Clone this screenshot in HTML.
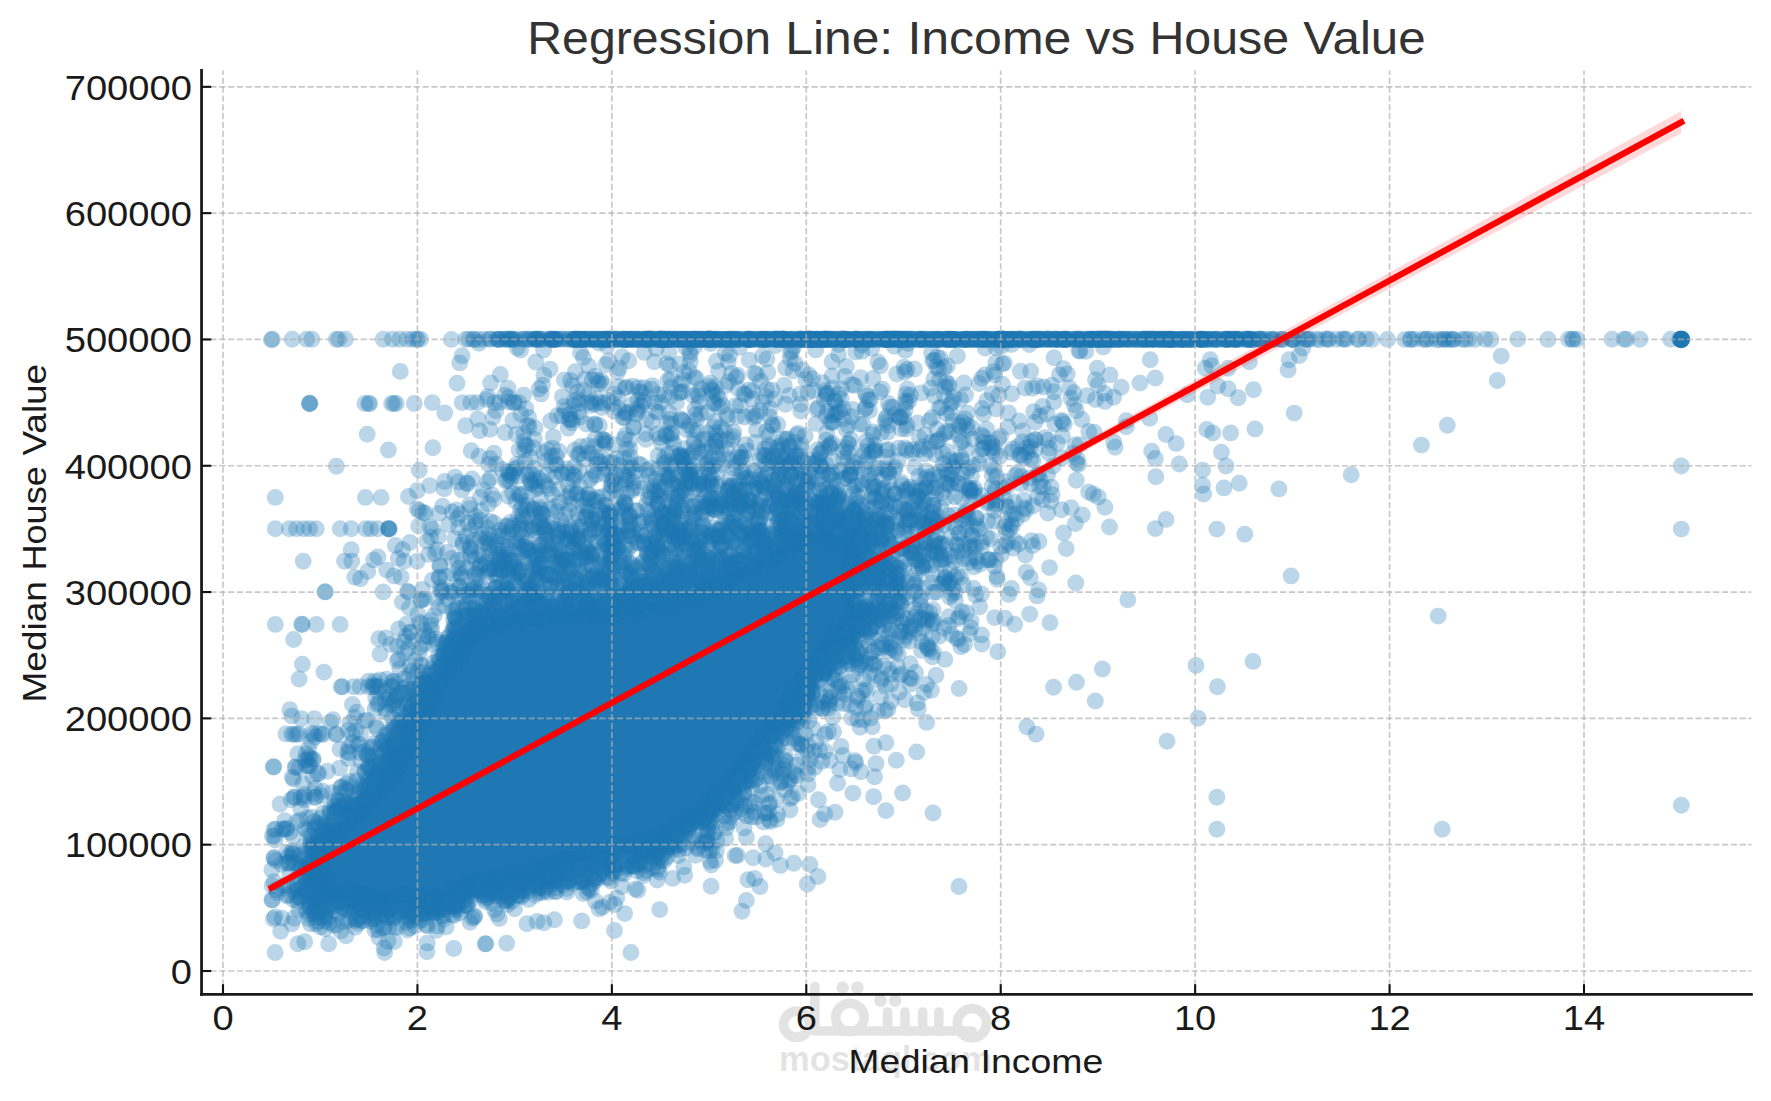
<!DOCTYPE html>
<html><head><meta charset="utf-8"><title>Regression Line: Income vs House Value</title>
<style>html,body{margin:0;padding:0;background:#fff}body{width:1771px;height:1101px;overflow:hidden;font-family:"Liberation Sans",sans-serif}svg{display:block}text{font-family:"Liberation Sans",sans-serif}</style></head><body>
<svg width="1771" height="1101" viewBox="0 0 1771 1101">
<rect width="1771" height="1101" fill="#fff"/>
<g id="scatter">
<path fill="#1f77b4" d="M318 858L322 845L326 838L330 832L334 829L338 825L342 822L346 818L350 815L354 811L358 807L362 803L366 800L370 796L374 792L378 788L382 783L386 776L390 768L394 761L398 754L402 747L406 740L410 731L414 723L418 715L422 707L426 698L430 690L434 684L438 678L442 672L446 665L450 659L454 653L458 647L462 641L466 636L470 630L474 628L478 627L482 625L486 624L490 623L494 621L498 620L502 618L506 616L510 615L514 613L518 613L522 612L526 612L530 612L534 612L538 612L542 611L546 611L550 611L554 611L558 610L562 610L566 610L570 610L574 610L578 609L582 609L586 609L590 609L594 609L598 608L602 608L606 608L610 608L614 607L618 607L622 606L626 605L630 605L634 604L638 604L642 603L646 602L650 602L654 601L658 600L662 600L666 598L670 597L674 596L678 595L682 593L686 592L690 591L694 590L698 588L702 587L706 586L710 584L714 582L718 580L722 578L726 576L730 574L734 572L738 570L742 568L746 566L750 564L754 562L758 560L762 558L766 555L770 553L774 550L778 548L782 545L786 543L790 540L794 538L798 535L802 533L806 530L810 531L814 531L818 532L822 532L826 533L830 533L834 534L838 534L842 535L846 535L850 536L854 536L854 618L850 622L846 626L842 630L838 636L834 642L830 648L826 654L822 660L818 666L814 672L810 678L806 683L802 689L798 695L794 701L790 707L786 712L782 717L778 723L774 728L770 734L766 739L762 744L758 750L754 755L750 760L746 766L742 770L738 775L734 779L730 784L726 788L722 792L718 797L714 801L710 806L706 810L702 813L698 816L694 818L690 821L686 824L682 827L678 829L674 832L670 835L666 837L662 840L658 842L654 843L650 844L646 845L642 846L638 847L634 848L630 849L626 850L622 851L618 852L614 853L610 854L606 855L602 856L598 857L594 858L590 859L586 860L582 861L578 862L574 863L570 864L566 865L562 866L558 867L554 868L550 870L546 871L542 873L538 874L534 875L530 877L526 878L522 880L518 881L514 882L510 883L506 883L502 883L498 884L494 884L490 884L486 885L482 885L478 885L474 886L470 886L466 886L462 889L458 892L454 894L450 897L446 900L442 903L438 903L434 903L430 903L426 903L422 903L418 903L414 903L410 903L406 903L402 903L398 903L394 903L390 903L386 903L382 903L378 903L374 903L370 903L366 902L362 902L358 901L354 900L350 899L346 899L342 898L338 898L334 898L330 898L326 898L322 898L318 897Z"/>
<g fill="none" stroke="#1f77b4" stroke-opacity="0.3" stroke-width="16.9" stroke-linecap="round">
<path d="M271.4 339.8h0M272.4 899.9h0M273.2 766.7h0M273.4 919h0M274.2 858h0M275.1 840h0M275.1 952.5h0M275.3 497.4h0M275.3 528.8h0M275.3 624.4h0M284.7 820.7h0M287.5 885.7h0M291.9 923.7h0M291.9 715.9h0M292.2 339.2h0M292.3 777.2h0M293.7 639.5h0M294 734.2h0M294.6 797.3h0M297.8 901.8h0M297.9 943.7h0M299.1 679h0M299.6 855.4h0M303.2 561.3h0M306.1 880h0M308.7 756.8h0M309.5 834.7h0M309.6 403.5h0M309.6 528.8h0M311.4 817.2h0M311.9 339.2h0M313.7 734.2h0M314.9 797.3h0M315.1 895h0M315.7 917.2h0M316.3 624.4h0M317.4 773.7h0M323.4 853.9h0M323.5 878.5h0M323.9 672.1h0M325.3 591.7h0M328.7 943.7h0M330.2 722.1h0M332.9 838.1h0M334.2 819.5h0M335 800.6h0M336.4 466.3h0M338.7 339.2h0M339.7 768.1h0M340 749.2h0M340.1 528.8h0M340.1 624.4h0M340.9 930.9h0M341.2 686.8h0M343 898.5h0M348.2 730.4h0M351.1 786.6h0M351.2 549.7h0M352.3 805.4h0M352.4 704.5h0M360 686.8h0M360.5 578.8h0M360.9 760.7h0M362.6 920.5h0M364.6 721.1h0M364.9 403.5h0M365.7 528.8h0M367.2 434.3h0M368.2 780.9h0M370.8 804.6h0M372.1 903.7h0M373.8 743.6h0M377.9 557h0M379.9 763.5h0M381.1 497.4h0M383.2 339.2h0M383.2 591.9h0M384.1 948h0M384.1 927.4h0M385.6 709.2h0M385.9 637.9h0M386.6 784.8h0M388.4 450h0M389 528.8h0M389.5 734.2h0M391.2 686.3h0M393.8 751.7h0M393.9 575.9h0M396.3 403.5h0M398.8 894.3h0M399.7 668.5h0M400.1 915.1h0M400.3 371.5h0M402.4 602.1h0M402.7 549.7h0M405.4 703.8h0M405.9 636.5h0M408.5 496.5h0M409.5 735h0M414.3 403.5h0M417.2 561.3h0M417.6 671.8h0M417.7 909.3h0M419.2 621.9h0M419.2 470.3h0M420.6 339.3h0M420.7 600.5h0M423 512.5h0M425.8 707.1h0M426.7 689.2h0M426.9 541.3h0M427 951.7h0M427.7 925.9h0M429.7 485.6h0M432.5 580.1h0M432.9 447.8h0M433.1 644.4h0M433.8 662.8h0M438.4 607.5h0M439.7 898.4h0M442.6 506.2h0M443.8 679.7h0M444.7 413h0M446.2 927h0M447.4 552.5h0M448.8 524.5h0M450.7 643.4h0M451.3 592.9h0M451.4 339.4h0M453.4 664.6h0M453.5 574.1h0M453.8 948.5h0M455.1 477.1h0M455.2 909.7h0M455.5 617.8h0M457 889.4h0M457.1 383.3h0M459.7 362.9h0M469.9 546.9h0M469.9 637.2h0M470.7 402.6h0M471.2 450.8h0M474.3 917.1h0M474.5 596.5h0M474.6 616.5h0M474.8 886.5h0M474.9 574.3h0M475.4 516.4h0M479.6 430.8h0M483.9 339.3h0M485.4 901.5h0M485.8 943.7h0M487.7 481.5h0M487.9 630.7h0M488.4 540h0M488.5 504.3h0M490.6 383h0M494 453.2h0M494.1 523h0M495 607.3h0M495.8 587.6h0M496 410.5h0M499.3 918.5h0M501.2 570.1h0M503.5 550.5h0M505.7 481.1h0M505.9 891.5h0M506 339.1h0M506.7 943.2h0M507.9 388h0M508.2 874.2h0M511.3 617.5h0M512.3 599.4h0M515.8 501.3h0M516.3 434.4h0M517.8 533h0M519.3 571.5h0M520.5 350h0M524.1 551.7h0M526 408.6h0M528.6 613.3h0M528.8 899.4h0M530.5 457.3h0M531.4 483.3h0M534.5 439.2h0M534.7 593.7h0M535.2 514h0M535.8 339.2h0M537.1 921.4h0M537.6 880.2h0M541.7 575.7h0M542.2 545.1h0M542.5 385.2h0M547 475.1h0M550 369.1h0M550.2 862.6h0M550.6 421h0M553.6 596.8h0M554.3 339.5h0M554.5 919.7h0M556.9 616.2h0M558.3 489.1h0M558.7 451.2h0M561.5 876.4h0M562.6 531.5h0M563.1 577.3h0M564 406.5h0M565.2 514.3h0M566 554.8h0M570.5 380.5h0M572.1 422.8h0M574.5 466.4h0M574.7 339.3h0M576 493.9h0M576.9 605.2h0M578.6 539.6h0M579.2 858.9h0M581.7 920.9h0M587 892.1h0M588.8 366.2h0M589.1 512.4h0M591.3 477.6h0M591.4 453.9h0M592.2 339.2h0M592.8 577.8h0M594.1 550.8h0M594.3 529.7h0M594.9 424h0M597.5 855.9h0M598.4 878h0M598.9 383.4h0M599.1 908.9h0M601.8 407.5h0M602.1 604.8h0M602.4 496.7h0M606.2 564.4h0M608.7 360.9h0M610 515.2h0M611.6 547.1h0M612.2 585.2h0M614.3 394.1h0M614.5 930.5h0M614.5 444.8h0M615.2 871h0M615.2 338.8h0M616.1 474.1h0M616.8 897.9h0M618 852.7h0M620.8 610.6h0M624.5 417.8h0M624.5 571.8h0M624.7 913.6h0M626.7 492.9h0M628.8 360.8h0M629 530.6h0M630.1 456.6h0M630.6 589.2h0M630.9 952.5h0M636.9 510.9h0M637.9 890.2h0M638 840.1h0M638.1 387.6h0M638.1 863.3h0M640 605.6h0M640.4 339.4h0M640.8 405.5h0M645.9 439.4h0M648 554.3h0M648.6 497.4h0M650.6 579.5h0M651 468.2h0M651.9 422.3h0M652.2 520h0M652.8 850h0M654.4 361.7h0M657.8 867.5h0M658.3 394.4h0M659.7 909.6h0M660.2 536.2h0M661 339.2h0M661.2 607.1h0M665.3 589.3h0M665.9 553.8h0M670.8 379.3h0M671.2 424.1h0M671.6 465.2h0M671.7 846.9h0M672.7 878.4h0M673.6 443.6h0M674.8 572.6h0M676.4 402.6h0M676.8 496.8h0M679.3 826.3h0M679.4 524.5h0M679.9 599.1h0M683.8 552.1h0M689.1 371h0M689.4 425.3h0M690.6 470.3h0M693.6 506.2h0M694.5 339.3h0M695.9 568.6h0M697.6 597.4h0M698.6 489.2h0M699.1 402.6h0M699.7 817.1h0M700.6 454.5h0M701.5 532.1h0M702 842.6h0M710.1 383.1h0M711.1 886.3h0M711.2 865h0M714.3 498.2h0M714.8 575.2h0M715.1 421.6h0M715.5 442.8h0M715.8 339.2h0M716.8 796.7h0M717.6 472.3h0M718.9 537.2h0M722 559h0M729.4 822h0M729.6 355h0M731.3 373.5h0M732.1 522.8h0M732.6 787.5h0M733.4 436.5h0M735.1 855.6h0M735.5 405.7h0M738.7 462.2h0M739.2 480.8h0M740.7 808.7h0M740.9 506.7h0M742 911.3h0M743 575.5h0M745.4 764.6h0M746.4 837.2h0M746.9 339.3h0M748 879.7h0M748.3 545h0M749.2 360.1h0M749.3 389.9h0M753.2 857.7h0M753.2 417.5h0M757.3 778.6h0M760.9 530.8h0M761.2 743.2h0M762.8 402.5h0M764.8 555.8h0M765 760.7h0M766.2 813.3h0M766.9 359h0M767.2 488.5h0M767.3 794.3h0M769 462.5h0M769 445.1h0M769.9 505.9h0M770.2 339.2h0M775 853h0M775.2 721.5h0M777.7 424.5h0M780.8 740.7h0M783.7 705.9h0M783.9 476.8h0M784 534.6h0M784.9 552.6h0M784.9 759.9h0M785.7 495.4h0M787.9 517.6h0M789.3 395.5h0M789.9 810.1h0M790.2 779.4h0M790.8 339.6h0M792.7 723.5h0M793 370.8h0M793.8 863.3h0M798.7 743.5h0M800.8 411.1h0M801.3 448.7h0M802.2 466.3h0M805.1 688.2h0M805.6 538.5h0M807.3 884h0M807.7 767.9h0M807.7 486.3h0M808 503.9h0M810.7 705.7h0M812.3 378.7h0M816 741.8h0M817.4 339.2h0M818.4 799.7h0M820.1 819.5h0M822.9 516.2h0M823 471.2h0M823.1 670.8h0M824.5 535.8h0M826.1 440.3h0M826.4 416.1h0M827.5 640.5h0M828.5 708.3h0M832.1 361.7h0M832.6 388.1h0M833.6 731.8h0M837.6 496.7h0M837.6 783.3h0M839 661.2h0M840.8 470.5h0M841.5 686.3h0M842.5 524.9h0M843 755.4h0M843.2 339.2h0M843.6 418.8h0M844.5 542.2h0M847.3 620.3h0M848.2 452.4h0M851.8 717.9h0M851.9 384.7h0M852 637.1h0M852.9 793.1h0M853.5 603.4h0M854.3 485.6h0M856 576.6h0M857.7 696.3h0M858.2 468.2h0M858.7 665.3h0M858.9 552.7h0M860.9 771.8h0M861 505.3h0M862.9 424.3h0M867.5 339.6h0M870.4 399.6h0M870.5 628.7h0M872.2 726.8h0M872.9 484.7h0M873 378.4h0M873.4 540.1h0M873.6 564.7h0M873.6 796.8h0M874.2 522h0M874.6 445.2h0M880.5 502.8h0M880.7 697h0M881.8 678.6h0M882.5 596.1h0M885.3 419.4h0M885.4 646.1h0M885.8 339.3h0M885.9 810.6h0M885.9 742.8h0M890.9 535.2h0M893.5 555h0M895.6 619h0M896.3 760.3h0M896.7 578.6h0M897.7 666.4h0M897.9 460.6h0M899.1 692.3h0M900 505.8h0M901.2 602.2h0M901.6 482.4h0M902.6 793h0M907.1 369.5h0M907.2 425.5h0M908.5 524.4h0M909.2 641.3h0M910.5 395.3h0M911.6 678.8h0M912.5 449.7h0M912.8 544.7h0M913.3 339.3h0M914.7 467.2h0M914.7 617.1h0M915.6 591.2h0M916.7 751.9h0M917.4 702.9h0M917.9 567.5h0M920.7 498.1h0M925.2 435.2h0M926.7 722.4h0M929.1 554h0M930.1 524.9h0M931.5 352.5h0M931.8 582.8h0M932.2 417.5h0M933 813h0M933.1 609.8h0M933.2 652h0M934 475h0M934.3 396h0M935.4 454.6h0M936 675.2h0M942.5 492.8h0M944 628.2h0M945.3 339.2h0M945.6 544.8h0M946.9 431.2h0M947.4 365.9h0M949.4 583h0M950 522.1h0M950.6 404.1h0M953.8 561.2h0M955 461.9h0M958.6 639.3h0M959 886.5h0M959.1 688.5h0M960.7 442.4h0M962.7 422.5h0M963.9 382.9h0M964.2 544.3h0M966.1 511h0M966.3 612.8h0M966.7 339.3h0M968.4 488.6h0M973.1 527.1h0M975.6 594.9h0M975.9 557.8h0M979.2 463.8h0M981.5 634.9h0M981.9 378.3h0M983.6 442.3h0M986.8 400.8h0M988.4 339.6h0M990.5 538.7h0M994.2 521.2h0M995.4 500.4h0M995.6 560.1h0M996.3 476.5h0M997.2 579.3h0M997.8 651.8h0M999.9 456.5h0M1000.6 436.3h0M1004.3 363.1h0M1005 618.2h0M1008.7 594.4h0M1011.2 339.4h0M1011.3 514.7h0M1011.8 393.8h0M1013.1 548h0M1018.1 472.3h0M1019.2 421h0M1020.4 371.3h0M1023.9 500.2h0M1026.2 572.1h0M1026.5 447.5h0M1029.7 614.1h0M1029.8 339.4h0M1032.6 388.2h0M1036.1 734.3h0M1037.1 595.9h0M1039 473.7h0M1039 541.5h0M1040 415.9h0M1042.5 499.5h0M1047.5 339.3h0M1049.3 448.1h0M1049.5 567.6h0M1050 622.7h0M1053.6 687.3h0M1054 401.8h0M1054 357.7h0M1061.4 509.7h0M1062.4 435.8h0M1063.5 532.9h0M1065 339.5h0M1067.3 374h0M1074.3 404.7h0M1075.8 583h0M1076.5 682.2h0M1076.6 463.3h0M1079 351h0M1079.8 444.6h0M1082.3 514.9h0M1088.7 492h0M1093 339.5h0M1094.1 432.2h0M1095.3 701h0M1095.5 399.6h0M1097.3 368.3h0M1102.4 669h0M1104.9 507.2h0M1109.5 527h0M1110.6 339.1h0M1113.6 397.3h0M1115.1 447.2h0M1126.3 420.7h0M1127.8 599.8h0M1135 339.3h0M1149.7 418.2h0M1150.2 359.7h0M1152.9 339.2h0M1155.3 378h0M1155.3 458.4h0M1155.3 528.6h0M1155.8 476.7h0M1166 434.5h0M1167 741.2h0M1175.8 339.3h0M1179.2 464h0M1187.4 394.8h0M1196 665.4h0M1198 718.3h0M1201.1 339.1h0M1202.6 485.3h0M1205.2 368.3h0M1212.8 432.9h0M1216.9 529.1h0M1216.9 797.2h0M1216.9 829.2h0M1217.4 686.8h0M1217.9 386.1h0M1221.4 452.3h0M1225.6 339.3h0M1228.1 368.3h0M1230.6 432.9h0M1239.2 483.3h0M1244.8 534.2h0M1249.4 361.7h0M1253 661.4h0M1253.5 389.7h0M1255 428.9h0M1255.5 339.4h0M1273.2 339.3h0M1278.9 488.9h0M1288.1 369.9h0M1291.1 575.9h0M1292.1 339.2h0M1294.2 413.1h0M1299.3 355.6h0M1327.9 339.3h0M1346.7 339.1h0M1351.2 474.7h0M1366.3 339h0M1387.6 339.4h0M1410 339.4h0M1421.4 445.1h0M1431.1 339.3h0M1438.2 616.1h0M1442.2 829.2h0M1447.3 425.3h0M1461.9 339.4h0M1491 339.5h0M1497.2 380.5h0M1501.2 356.1h0M1517.8 339.1h0M1547.9 339.4h0M1572.3 339.1h0M1612 339.3h0M1640 339.3h0M1681.3 466h0M1681.3 529.1h0M1681.3 805.3h0M1681.3 339.1h0"/>
<path d="M271.9 869.8h0M271.9 899.7h0M272.3 836.3h0M272.4 339.2h0M273.9 767h0M280 804.2h0M280.7 931.2h0M285.9 733.9h0M293.4 836.5h0M293.6 779h0M293.7 862.9h0M294.2 918.3h0M294.9 891.8h0M300.8 808.6h0M301.3 718.7h0M302.3 624.4h0M302.4 664.3h0M303.8 528.8h0M304.7 941.7h0M306.4 765.7h0M306.7 339.2h0M308.5 748.2h0M309.3 403.6h0M314 827.6h0M314.6 901.9h0M315.1 788.1h0M317.4 882.5h0M318.7 857.3h0M321.2 734.2h0M325 591.9h0M325.3 928.7h0M327.5 771.2h0M331 893.8h0M332.6 826.8h0M333.1 719.8h0M338 800.5h0M338.3 913.8h0M344.5 561.3h0M345.4 339.2h0M345.9 935.7h0M347.7 752h0M348.1 815.7h0M351.2 528.8h0M353.6 686.8h0M354.6 717.5h0M354.7 577.3h0M355.4 920.5h0M355.7 891.7h0M357.5 771.8h0M359.1 793.6h0M365.4 497.4h0M369.7 403.6h0M373.6 559.9h0M373.7 918.7h0M374.7 681.2h0M375.7 764h0M376 726.2h0M376.8 900.9h0M377.9 528.8h0M378.8 703.2h0M378.8 638.8h0M382.3 790.1h0M384.7 952.5h0M386 741.2h0M391.6 403.5h0M392.5 339.2h0M393.1 771.5h0M397.7 646.1h0M398 911.6h0M398.3 558.4h0M399.1 722.1h0M400.3 693h0M401.2 577.3h0M403.3 754.5h0M404.6 894.5h0M407.4 930.1h0M409.9 542.4h0M410.6 632h0M415.9 737.4h0M417.2 490.7h0M417.8 339.2h0M418.2 714.9h0M418.7 696.8h0M419.4 653.3h0M421.3 599.5h0M422.7 679.6h0M424.2 894.9h0M425.2 513.2h0M427.2 916.4h0M427.2 943.1h0M428 636.4h0M428.7 554.4h0M432.3 402.6h0M432.7 528.9h0M434.2 615.5h0M438.3 668h0M439.4 577.7h0M439.4 685.8h0M444.1 488.8h0M449.9 898.7h0M452.2 511.9h0M454.9 538.8h0M455.1 644.8h0M455.8 663h0M457.6 607.9h0M459.4 568.2h0M461.9 489.9h0M462.1 355.7h0M462.2 402.6h0M463.3 590.9h0M465.6 425.8h0M466.5 630.7h0M467.2 904.8h0M468 523.3h0M469.8 879.8h0M470.1 922.3h0M471.3 551h0M474.9 614.2h0M479.1 343.3h0M479.2 456.2h0M481 510.7h0M481.5 534.5h0M485.3 943.9h0M486.5 630.8h0M486.6 399.4h0M487.1 594.7h0M490.4 478.2h0M490.9 568.9h0M493 417.2h0M494.5 909.4h0M495 888.5h0M496.2 339.1h0M498.4 616.7h0M500.3 374.4h0M502.1 536.6h0M504.1 600.1h0M504.9 432.5h0M507 875h0M508.5 496.2h0M509.3 558h0M509.5 474.7h0M514.3 402.6h0M514.5 908.8h0M518.1 573h0M522 884.4h0M523.2 546.8h0M525.3 445.3h0M525.9 528.6h0M529.2 339.2h0M529.2 426.4h0M529.2 472.6h0M529.5 595.2h0M532.6 617.9h0M532.8 508.7h0M536.6 578.4h0M538.4 892.7h0M540.1 554.5h0M541.1 393.9h0M542 875.3h0M543.8 922.7h0M543.9 375.3h0M545 605.4h0M546.9 538.1h0M548.7 488.4h0M549.6 339.2h0M555.7 887.7h0M556.2 455.9h0M559 566.8h0M559.7 502.5h0M559.9 858.4h0M562.1 473.9h0M565.4 410.7h0M567.9 339.3h0M568.2 428.2h0M568.5 591.7h0M571.6 529.9h0M571.9 609.2h0M575.3 371.7h0M578.9 553.3h0M579.6 453.7h0M579.8 486.8h0M580.2 882h0M580.5 352.4h0M586.6 424.1h0M588.2 402.6h0M589.3 604.3h0M591.1 855.2h0M592.2 379.9h0M595.7 519.5h0M595.8 542.1h0M596.6 573.4h0M597.6 501.8h0M599 339.3h0M599.1 874.5h0M602.5 907.1h0M603.8 615.1h0M604.4 474h0M605.3 442.8h0M608.5 594.9h0M612.3 403.4h0M616.4 458.5h0M616.6 339.5h0M616.7 854h0M618.5 536.3h0M618.8 386.6h0M619.3 368h0M621.6 614.9h0M622.3 575.3h0M623.5 555.9h0M623.8 475.1h0M624 873.7h0M629 515.4h0M631.2 491h0M633.4 427.4h0M634.5 848.9h0M635.3 889h0M637.9 400.2h0M638.5 542.8h0M640.9 593.7h0M646.9 470.1h0M648.4 835.6h0M648.7 339.2h0M651 498.4h0M652.4 385.6h0M652.4 524.6h0M652.6 867.8h0M652.8 570.2h0M654.6 607.5h0M655.6 411.2h0M656.3 547.3h0M660.2 437.6h0M666.2 339.5h0M666.6 582.8h0M667 363.6h0M667.6 839.3h0M668 513.3h0M669.4 477.3h0M670 396.9h0M671.4 530.4h0M672 453.5h0M678.4 855.5h0M679.1 496.3h0M680.5 418.6h0M682.3 600.8h0M683.4 557.2h0M683.7 380.2h0M684 819.6h0M684.7 875.2h0M686.1 581.7h0M686.1 469.8h0M689.8 530.2h0M689.9 352.1h0M692.5 842.5h0M695.1 489.2h0M695.1 513.3h0M699.1 546.7h0M699.7 570h0M700.7 413.8h0M702.5 339.6h0M705.2 439.3h0M706.5 589.4h0M711.3 506.1h0M712.2 849.3h0M713.1 395.8h0M714 816.3h0M715.9 798h0M717.1 484.4h0M718.6 371.1h0M720.5 557.4h0M722 525.9h0M722.2 339.4h0M722.2 464.8h0M724.2 581.2h0M724.4 430.6h0M730.6 496.7h0M733.1 541.1h0M733.9 788.4h0M736 377.2h0M736 567.8h0M737.2 416.6h0M737.4 855.4h0M739 769.2h0M739.5 347.4h0M742.1 812.4h0M745.5 519.1h0M745.6 444.7h0M746.4 900.5h0M747.4 482.7h0M750.6 500.5h0M750.9 751.4h0M751.8 788.5h0M752.3 398.9h0M753.6 566.6h0M755.6 339.4h0M760 886.5h0M760.3 772.1h0M762.6 737.7h0M764 537.9h0M764.6 478.1h0M765.5 455.4h0M765.6 843.8h0M767.7 372.6h0M768.6 556.4h0M768.9 435.3h0M769 504.9h0M769.6 416.9h0M769.9 803.4h0M770.4 821.6h0M770.5 756.4h0M772.1 390.3h0M778.2 726.6h0M780.4 865.4h0M782.4 773.8h0M782.9 479.5h0M783 518.8h0M785 706.8h0M785.5 540.5h0M785.7 367.9h0M786 339.3h0M789.4 446.3h0M791.2 500.8h0M795.7 686.9h0M798.2 793.2h0M799.2 526.8h0M800.6 404.2h0M800.9 744.4h0M801.5 722.8h0M801.7 460.7h0M803.8 702.9h0M805.2 435.8h0M805.9 379.4h0M808.2 774h0M808.2 672.6h0M809 505.8h0M811.5 476h0M817.8 407.6h0M817.9 876.5h0M819.1 459h0M819.4 658.7h0M819.7 339.6h0M824.7 814h0M825.1 390.7h0M826.2 530.3h0M827.4 495.5h0M828.3 731.6h0M829.4 704.6h0M829.9 760.4h0M830 476.1h0M830.4 421.9h0M830.4 444.6h0M833.7 512.3h0M835.4 643.7h0M838.5 687.3h0M838.7 339h0M840.4 666.2h0M841 746.5h0M841.3 541.5h0M843.6 408.7h0M846.4 366.4h0M848.2 459.1h0M848.3 559h0M849.9 704.6h0M850.2 631.3h0M850.6 593.1h0M850.8 439.5h0M851.1 768.9h0M853.2 510.6h0M853.9 575.6h0M857.3 659h0M858 531.5h0M859.5 424.3h0M859.8 612.8h0M860 727.2h0M860.7 377.8h0M861.9 345.1h0M862.2 485.2h0M863.8 679.2h0M865 554h0M866.7 396h0M867.7 446h0M870.4 515.4h0M871.5 627.8h0M871.9 587.1h0M873.2 651.5h0M873.9 746.2h0M874.4 498.2h0M874.6 776.8h0M877.9 361.9h0M878.4 606.3h0M879.6 530.9h0M881.1 432.7h0M882.3 550.5h0M883.7 665.9h0M885.3 568h0M887.6 638.6h0M887.8 709.5h0M888.3 449.4h0M888.4 403.5h0M889 472.1h0M889.7 513.4h0M890.6 684.3h0M890.7 339.1h0M891.6 490.1h0M896.2 588.9h0M898.3 653.8h0M898.3 611.1h0M900.1 416.9h0M902.1 547.9h0M904.2 367.1h0M904.5 526.9h0M905.1 699.8h0M905.9 394.4h0M908.5 339.5h0M909.8 677.9h0M910.1 487.1h0M912.1 453h0M914.3 592.3h0M914.9 629.6h0M917.2 560.6h0M917.4 422.9h0M921.5 513.3h0M924.8 533.8h0M926.1 339h0M926.9 477.2h0M929.9 612.4h0M930.1 649.6h0M931 442.4h0M931.4 690.3h0M932.4 573.7h0M933.5 592.5h0M936.1 494h0M937 357.1h0M937.3 546.6h0M941.3 407.3h0M943.3 525h0M944.9 659.4h0M945.9 382.1h0M947.4 451.7h0M947.5 474h0M949.1 616.6h0M949.7 431.7h0M950.1 570.1h0M953 588.6h0M954.7 496.7h0M956.7 638.4h0M959.4 533.5h0M961.1 339.5h0M964.2 514.8h0M965 418.9h0M965.5 394.9h0M966.1 449.6h0M967 471.5h0M970.2 547.3h0M970.7 627.6h0M973.7 588.5h0M973.8 566.9h0M974.6 488.4h0M979.2 383.5h0M979.4 528.9h0M979.7 606.8h0M979.7 339.2h0M981.6 435.2h0M982 644.1h0M982.1 408.4h0M986.9 502.9h0M993.1 450.8h0M994.1 470.2h0M994.4 566.4h0M994.7 617.6h0M995.7 362.8h0M998.7 339.2h0M998.9 395.3h0M1000.8 546.8h0M1003.5 488.1h0M1008.2 427.1h0M1011.4 588.5h0M1014.7 624.3h0M1014.8 513.7h0M1018.1 446.4h0M1020 339h0M1020.8 483.5h0M1026.9 726.7h0M1030.3 577.8h0M1032.6 545.4h0M1033 460.5h0M1035 439.6h0M1037.2 385.9h0M1038.6 339.3h0M1042.7 406.4h0M1047.8 513.1h0M1051.2 487.1h0M1053.1 466h0M1054 391.8h0M1054.8 423.9h0M1057.4 443.2h0M1059.4 374.7h0M1061.3 339.3h0M1066.2 548.6h0M1071.2 507.7h0M1073.8 392.8h0M1075.1 444.9h0M1076.3 480.2h0M1081.8 419.4h0M1087.2 339.2h0M1098.2 384.7h0M1098.3 497h0M1103.3 346.9h0M1104.9 401.4h0M1113.6 442.1h0M1119.5 339.4h0M1121.2 387.2h0M1126.3 426.8h0M1137 339.3h0M1140 383.1h0M1151.7 451.3h0M1157.4 339.1h0M1166 519.4h0M1176.2 443.6h0M1190.7 339.6h0M1202.6 470.1h0M1203.6 494h0M1206.7 429.4h0M1207.7 397.3h0M1211.7 339.5h0M1211.8 365.8h0M1224 487.9h0M1226 466h0M1230.7 339.2h0M1238.2 397.8h0M1252.9 339.4h0M1271.3 339.6h0M1289.1 359.7h0M1293.8 339.7h0M1315.8 339.3h0M1336.3 339.3h0M1358.6 339.3h0M1404.9 339.4h0M1426.7 339h0M1444.5 339.5h0M1465 339.2h0M1485.1 339.3h0M1568.5 339.3h0M1624 339.3h0M1681.1 339.1h0"/>
<path d="M272.2 885.7h0M275.1 916.9h0M286.2 828.4h0M286.4 862.9h0M287.9 894.9h0M289.9 709.8h0M291.7 734.2h0M296.5 528.8h0M298.7 880.2h0M301.6 624.2h0M304.2 794.5h0M305.1 828.9h0M308.6 863.1h0M308.8 765.7h0M309.3 902.4h0M310 403.2h0M314.4 718.6h0M314.8 736.9h0M316.3 528.8h0M316.3 923.9h0M316.3 844.6h0M320.7 888.2h0M322.6 791.3h0M323.1 813.1h0M326 860.8h0M326.5 907.1h0M336.4 339.2h0M336.6 734.2h0M336.6 925.1h0M339.6 801.6h0M340.7 832.7h0M342.4 686.8h0M348.7 903.7h0M351.2 816.9h0M351.8 561.3h0M352.5 742.5h0M356.1 793.7h0M356.7 712.2h0M357.9 923.4h0M367.8 571.5h0M368.2 767.3h0M368.4 894.8h0M368.6 403.5h0M370.7 528.8h0M373.4 796.2h0M375.7 686.8h0M376.4 914.5h0M377.2 704.3h0M379 937.6h0M380 654.2h0M380.4 779.8h0M386.7 570.1h0M386.8 749.6h0M389.2 529.1h0M389.7 897h0M393.1 729.8h0M393.9 403.5h0M394.7 927.1h0M395.4 545.4h0M396.6 696.7h0M397.1 767.9h0M398.7 628.9h0M398.8 658.9h0M404.1 678.7h0M404.1 561.3h0M405.3 748.4h0M405.5 909h0M412.8 339.2h0M413.6 704.1h0M414.8 724.7h0M417.9 614.2h0M419.2 510.6h0M419.9 920.4h0M421.1 895.9h0M422.4 589.4h0M422.7 665.7h0M426.7 689.2h0M428.9 636.4h0M430.1 526.7h0M436.4 930.2h0M437.3 910.6h0M440.2 667.4h0M444.7 481.4h0M445.8 576.3h0M447.8 599.2h0M451.8 558.2h0M452.2 894.6h0M453.5 619.2h0M454 915.4h0M456.4 509.9h0M456.9 658.9h0M462.1 640.5h0M464.9 880h0M465.8 536.2h0M470.5 555.5h0M472 616h0M472.1 478.9h0M474.1 339.2h0M474.8 915.8h0M475.7 581.1h0M477.2 402.6h0M482.7 886.6h0M487.3 607h0M487.4 527.8h0M488.5 548h0M489.1 568.8h0M489.9 429.4h0M492.2 495h0M492.3 624.5h0M497.6 877.4h0M497.6 897h0M499.4 402.6h0M499.6 339.3h0M502.3 469.4h0M507.3 589.1h0M508.8 617.7h0M508.8 533.4h0M512.7 493h0M515.4 561.2h0M515.8 880.7h0M520.9 414.2h0M523.9 339.2h0M523.9 433.5h0M525.1 461.4h0M526.9 923.7h0M527.2 577.1h0M527.2 517.2h0M532.6 867.6h0M535.1 895.1h0M535.7 362h0M535.8 489.3h0M537.1 600.9h0M539.1 388.9h0M540 550.9h0M543.6 527.5h0M545 617.4h0M550.8 339.2h0M552.4 448.1h0M554.5 882.3h0M556.9 465.2h0M558.3 549.2h0M560.6 603.6h0M560.8 574.9h0M561.1 520.8h0M562.5 396.6h0M563.4 859.4h0M569 419.8h0M570.3 498.2h0M574.6 450.3h0M576.4 339.5h0M576.6 877.8h0M579 470.9h0M579.8 592.4h0M580.3 536h0M583.4 357.4h0M583.8 390.1h0M584.7 611.8h0M587.9 510.3h0M588.8 551.5h0M591.1 867.4h0M591.2 890h0M593.6 576.8h0M594.6 849.7h0M595.3 438.6h0M599.6 523.9h0M599.6 339.3h0M599.6 461.3h0M603.2 384.3h0M604.5 403.3h0M605.6 505.3h0M607.7 562.4h0M610.8 485.4h0M610.9 581.3h0M611.1 608.4h0M611.7 538.2h0M612.3 856.6h0M614.5 904.5h0M617.5 372h0M621.4 873h0M625.4 503.4h0M625.8 590.9h0M626 339.4h0M626.6 387.1h0M628.5 412.4h0M628.6 467.8h0M630.2 440h0M631 848.5h0M632.2 568.1h0M632.9 537.2h0M640.6 488.4h0M640.7 604.2h0M643.8 521h0M643.9 872.7h0M644 400.5h0M644.9 587h0M646.7 419.3h0M649 338.9h0M650 567.1h0M653.5 856.7h0M657.8 503.5h0M659.9 481.8h0M660.4 602.1h0M660.8 545.7h0M663.3 838.1h0M663.7 521.6h0M664.1 394.9h0M664.2 463.8h0M665.3 434.2h0M666.9 339.6h0M669 412.6h0M669.8 584.1h0M674.7 566.9h0M678.7 486.3h0M679 849.8h0M679.7 364.3h0M680.6 383.7h0M681.3 831.1h0M683.8 866.7h0M684.3 518.1h0M684.7 463.9h0M687.5 598.4h0M688.1 339.4h0M690.5 549.4h0M692.8 811.4h0M695.1 409.1h0M696.8 568.3h0M696.9 430.7h0M697.6 847.6h0M699.7 527.8h0M707.8 462.2h0M709.1 480.7h0M709.5 339.6h0M710.1 861.2h0M710.2 498.1h0M710.2 812.1h0M710.2 543.7h0M713.4 794.2h0M715.5 832h0M717 394.5h0M717.8 583.6h0M720.4 440.2h0M726.9 415.2h0M727.6 536.5h0M728 459.5h0M728.1 485.7h0M728.2 361.7h0M728.4 785.2h0M728.8 564.1h0M732.9 339.4h0M736.4 800.7h0M738.5 501.8h0M742.8 575.4h0M742.9 760.5h0M746.5 782.2h0M746.5 478.5h0M746.8 815.9h0M746.8 450.6h0M750.1 531.5h0M752.5 390.7h0M754.5 373.2h0M754.6 878.4h0M756 415.7h0M756.8 510.7h0M758.1 554.1h0M758.5 749.6h0M763.3 821.9h0M763.7 339.1h0M765.3 494.2h0M765.9 859h0M768.7 804.6h0M772 768.6h0M772 719.4h0M773 425.5h0M773.2 456.2h0M776.3 739.2h0M777 508h0M777.5 552h0M778.1 528.5h0M779.1 474.7h0M784.2 385.2h0M784.7 790.1h0M785.4 404.2h0M790.8 717.5h0M791 339.5h0M791.3 490.7h0M792.9 460.2h0M796.8 765.3h0M799.1 700.5h0M800.2 393.9h0M800.7 739h0M801.4 445h0M802.2 529.9h0M802.4 369.7h0M806 500.4h0M808 481.1h0M808.1 784.8h0M809.1 721.1h0M809.9 864.5h0M811.5 464h0M814 751.7h0M814.1 671.4h0M815.7 350h0M816.4 516.2h0M822.5 382.7h0M823.1 535.4h0M824.2 400.1h0M824.9 734.5h0M825.8 696.9h0M826.7 654.2h0M826.7 433.5h0M829.3 503.1h0M830.2 339.3h0M832 677.5h0M832.8 716.9h0M833.5 479.8h0M835 812.3h0M837.8 520.3h0M838.5 354.8h0M839.7 769.6h0M839.7 411.7h0M840.1 640.9h0M841.7 388.9h0M843 539h0M843.6 458.8h0M845.9 429h0M846.4 622.7h0M848.4 504.9h0M849.2 682.1h0M850.1 592.7h0M851.6 560h0M855 760.6h0M856 659.6h0M856.5 339.3h0M860.7 576.6h0M863.3 546.9h0M863.4 455.1h0M863.7 629h0M864.8 707.4h0M866.1 607.8h0M867.4 527.6h0M868.3 400h0M869.4 500.3h0M869.4 474.7h0M872.8 434.6h0M874.9 589.5h0M875.6 339.5h0M876 763.6h0M879.2 619.8h0M880.4 365.7h0M880.6 680.8h0M882.2 389.1h0M882.9 563.4h0M883.3 488.2h0M884.8 710.9h0M886.6 511.8h0M887 457.1h0M888 539.6h0M888.2 425.6h0M888.4 651.4h0M888.8 605h0M896.8 374h0M900.5 339.4h0M900.8 582.6h0M900.9 632.2h0M901.6 485h0M905.2 409.4h0M905.6 510h0M906.2 429h0M909.6 558.7h0M910.3 663.8h0M912.5 536.8h0M914.4 369h0M918.2 709.1h0M919.7 449.6h0M920.2 600h0M920.8 490.7h0M920.9 617.6h0M921.1 392.9h0M921.7 641.9h0M922.9 339.3h0M923.9 692.6h0M926.3 471.1h0M926.5 565h0M929.3 420.7h0M931.4 526h0M932.4 656.7h0M937.5 441h0M938.7 369.1h0M941.1 555.2h0M943.6 583h0M945 468.9h0M945.4 498.1h0M948 515.4h0M948.9 625.5h0M949 387.3h0M951.2 412.4h0M953.6 339.5h0M955.4 600.7h0M956.5 544.3h0M958.2 434.9h0M960.7 577.4h0M962.1 473.2h0M964.5 644.5h0M971 621.1h0M971 339.5h0M974 495.2h0M975.7 518.2h0M978.3 561.6h0M979.8 455.3h0M981.5 593.9h0M983.6 414h0M984.8 374.9h0M986.6 536.9h0M995.3 488.8h0M996.9 576.6h0M998.5 438.9h0M1001.2 346.5h0M1002.3 384.2h0M1002.4 363.9h0M1006.9 506.7h0M1007.3 542.6h0M1008.5 413h0M1011 524.2h0M1015.4 475.5h0M1017.8 339.2h0M1022.7 431h0M1025 388h0M1025.4 555.1h0M1027.1 452.3h0M1030.7 371.3h0M1037.3 474.9h0M1037.5 496.7h0M1038.2 339.3h0M1038.7 589.9h0M1046.9 414.1h0M1048.7 452.7h0M1052 385.2h0M1058.4 339.4h0M1062.8 421.8h0M1063.6 368.7h0M1069.3 387.8h0M1072.9 453.3h0M1075.4 523.6h0M1076.3 410.7h0M1087.1 395.7h0M1088.8 431.5h0M1090 339.3h0M1093.2 494.3h0M1095.5 379.7h0M1116.1 339.4h0M1135.7 339.5h0M1168.9 339.3h0M1190.6 339.2h0M1210.2 359.7h0M1215.6 339.4h0M1228.1 388.7h0M1236.2 339.2h0M1261.2 339.2h0M1280.7 339.2h0M1308.4 339.4h0M1342.6 339h0M1371.7 339.4h0M1425.8 339.4h0M1443.8 339.1h0M1474.9 339.4h0M1573.1 339.4h0M1626.5 339.3h0M1680.8 339.9h0"/>
<path d="M273.9 829.8h0M273.9 881.7h0M281.7 864.2h0M282 918.3h0M289.3 528.8h0M294 797.3h0M295 767.2h0M296.7 821.7h0M298 890.8h0M298.9 909.7h0M299.3 734.2h0M301.6 866.6h0M307.3 849.4h0M310.3 758.2h0M310.3 923.7h0M313.8 793.5h0M319.1 885h0M319.9 902.6h0M320.6 865.8h0M323.3 823h0M323.3 734.2h0M326.3 846.5h0M329.3 922.8h0M339.6 897.3h0M340.9 787.4h0M344.1 814.7h0M347.6 920.8h0M348.4 758.6h0M359.4 744h0M360 907h0M361 803.7h0M367 720.1h0M368.4 686.8h0M369.9 786.2h0M370.5 768.7h0M372.7 894.6h0M383.4 928.2h0M385 756.3h0M387.8 732.7h0M388.5 528.6h0M390.9 644.4h0M395.8 684.3h0M397.3 660.9h0M398.3 708.9h0M398.7 767.9h0M399 911.5h0M401.2 744h0M406.7 624.3h0M407 339.2h0M407.5 591.4h0M408.3 894.5h0M409.9 927.9h0M412.1 671.2h0M417.2 718.5h0M418.7 525.9h0M419.7 647.6h0M423.6 691.2h0M424.1 599.3h0M425.6 912.6h0M428.7 894.6h0M431.2 625.3h0M437.2 925.9h0M437.5 677.1h0M438.4 536.6h0M439.1 513.4h0M439.6 565.4h0M442.2 592.7h0M443.7 643.3h0M443.8 909.5h0M452.1 891.5h0M457.5 518.4h0M457.6 654.4h0M457.8 560.4h0M463 542.5h0M465.7 339.2h0M466.6 632.4h0M466.6 482.9h0M467.1 605h0M469.4 888.8h0M469.4 504.8h0M472.4 918.3h0M474.6 589.3h0M475.9 568.6h0M477.8 419.1h0M480.5 519.9h0M484.4 623.9h0M485.1 899.1h0M487.8 396.6h0M488.7 464.6h0M490.2 339.1h0M491.1 882.4h0M492.1 592.8h0M493.9 499.2h0M494.3 569.6h0M495.6 541.4h0M504 900.8h0M509.2 401.9h0M510 480.9h0M510.1 592.1h0M511.2 560.9h0M511.4 339.1h0M512.2 881.7h0M512.2 616.3h0M512.9 420.5h0M513 525.2h0M521.5 896.7h0M523.9 441.6h0M526.2 501.2h0M526.9 474.7h0M527.4 598.6h0M528.6 549.4h0M529.6 875.7h0M534.8 617.4h0M535 428h0M535.3 530.9h0M538.3 339.2h0M539.8 579.1h0M541.8 513.4h0M543.7 481.4h0M546.7 887.2h0M552.1 456.3h0M552.3 606.3h0M553.3 436.7h0M555.9 551.5h0M557.5 339.1h0M558.7 533.2h0M561.7 868.5h0M565.7 595h0M568 576.9h0M570.6 617.1h0M570.8 492.4h0M572.4 385.6h0M572.4 419.5h0M573.8 474.6h0M578.2 539.6h0M578.8 519.6h0M583 589.1h0M583.2 893.6h0M584.2 459.1h0M584.3 339.2h0M584.6 852.2h0M584.7 873.5h0M589.9 499h0M591.3 557.1h0M591.5 402.6h0M593.9 530.4h0M594.8 424.8h0M594.9 376.2h0M596.5 617.2h0M597.9 578.5h0M598.7 862.5h0M601.1 463.5h0M601.7 599.1h0M604.7 513h0M605.3 440.8h0M606.8 339.5h0M609.5 902.4h0M610.9 881.1h0M612 481h0M613.2 567.6h0M614 411h0M615.6 534.6h0M617.5 498h0M619.9 465.2h0M620.4 848.5h0M622.1 356.8h0M623.1 611.2h0M624.2 439h0M626.4 339.4h0M627.8 549.6h0M630.6 515.8h0M631.2 570.5h0M631.9 591.2h0M633 386.3h0M633 482.2h0M637 870.8h0M638.6 463.9h0M639.6 852.2h0M643.9 402.6h0M645.8 433.8h0M650.5 601h0M651.4 521.2h0M651.9 543.9h0M652 338.9h0M656.2 479.2h0M657.1 836.1h0M657.6 504.3h0M658.4 412.4h0M659.6 872.2h0M660.9 563.1h0M661.4 443.3h0M662 854.9h0M664.2 580.3h0M668 380.3h0M668.9 352.4h0M674.4 521.6h0M674.6 484.8h0M674.7 604.8h0M675.3 835.6h0M679.3 568h0M680.7 392.2h0M681.2 543.9h0M681.2 456.5h0M682.9 421h0M684.8 588.1h0M690.3 823.9h0M693 478.9h0M693.1 506h0M693.6 339.4h0M694 443.9h0M694.3 377.6h0M695 559.5h0M695.5 855.3h0M698.5 396h0M702.6 805.5h0M706 580.5h0M709.7 536.2h0M710.6 343.5h0M711.1 844.4h0M711.5 446.9h0M712.1 499.1h0M712.4 822.2h0M713.2 465.7h0M715.4 386.7h0M716 555.5h0M719.4 407.1h0M720.6 427.4h0M721.7 804.1h0M725.2 353.1h0M726 520.5h0M729.6 577h0M733.4 773.3h0M734.1 498.4h0M736.2 558.6h0M737.7 375.5h0M738.3 339.3h0M739.6 801.3h0M740.2 405.5h0M741.1 458.3h0M744 827.9h0M745.6 477.5h0M746.9 535.3h0M749.6 780.2h0M754.3 812.1h0M755.2 565.2h0M755.8 748.4h0M755.8 519.6h0M756.6 429.9h0M756.7 374.5h0M759.7 339.3h0M760.1 410.8h0M760.2 500.3h0M764 549.4h0M764.7 448.8h0M767.5 473.9h0M770.9 776.4h0M772.3 754.4h0M772.8 525.5h0M772.8 736.1h0M774.8 399.2h0M776.4 799.6h0M776.9 819.6h0M782.2 455.5h0M782.3 339.2h0M783 505.7h0M784.6 716.2h0M787.7 484.7h0M791.5 521.6h0M792.7 540.1h0M794.2 442.3h0M794.8 774.5h0M795 363.3h0M795.6 695.9h0M800.4 471h0M804.4 711.8h0M804.7 489.4h0M805.4 509.7h0M805.6 734.8h0M808 392.4h0M808.4 668.2h0M808.8 374.9h0M810 759.2h0M813 691.1h0M814.4 339.4h0M817.2 409.5h0M820.6 531.4h0M821.5 497.9h0M822.6 708.9h0M826.4 464.7h0M829.1 663.6h0M831.2 691.7h0M832.2 423h0M832.4 443.3h0M832.6 642.6h0M832.7 511.9h0M834.6 401.8h0M835.7 339.6h0M836.9 485.8h0M844.9 376.5h0M845.7 655.3h0M849.7 632.8h0M851.1 581.9h0M851.8 416.8h0M852.7 674.8h0M852.7 543.6h0M854.3 462.3h0M855.5 762.7h0M856.1 500.2h0M857 339.1h0M857.3 526.8h0M857.8 719.6h0M861.7 564.7h0M862.3 691h0M864.3 612.7h0M865.1 393.1h0M869.5 410.5h0M872.6 664.5h0M873.1 431.9h0M873.3 637.6h0M873.6 538.2h0M874.6 339.3h0M874.8 506.6h0M875 450.6h0M876.4 584.9h0M876.5 487.2h0M878.1 468.3h0M880.3 620.3h0M880.5 565.5h0M883.1 522h0M886 603.8h0M886.8 416.8h0M890.9 701.6h0M891.4 546.1h0M893.4 339h0M895.3 506.5h0M898.6 448.2h0M898.9 582.8h0M901.2 674.3h0M901.4 428.9h0M903.6 618h0M904.5 639.8h0M904.6 532.2h0M904.9 372.2h0M906.2 402.8h0M907.4 491.5h0M910.4 552.1h0M915.1 339.4h0M916 574.4h0M917.9 506.2h0M920.8 596.7h0M923.4 523.6h0M926.6 684.5h0M927.4 647h0M928.6 449.4h0M929.8 480h0M932.2 624.1h0M934.2 360.2h0M936.9 554h0M937.1 429.2h0M939.2 408.1h0M939.7 379.7h0M940.9 508h0M946.3 339.5h0M950.4 460.1h0M950.4 537.2h0M951.3 634.3h0M952.6 478.7h0M953.6 396.6h0M955.3 592.3h0M957.4 356.1h0M957.7 574.7h0M958.5 425.2h0M959.4 616.8h0M962.2 519.2h0M967.2 339.1h0M968.8 468h0M969.3 633.8h0M969.8 495.7h0M969.9 558.6h0M970.8 535.1h0M973 439.2h0M987.4 339.3h0M987.8 521.2h0M988 501h0M988.3 559.9h0M992.3 475.3h0M993.5 371.6h0M995.3 453.9h0M996.3 408.9h0M1004.6 527.1h0M1005.1 339.4h0M1009 507.4h0M1015.4 541.5h0M1020.8 455.8h0M1021.4 476.4h0M1026.4 509.4h0M1029.3 344.6h0M1031.2 441.6h0M1035.1 422.3h0M1040.6 480.8h0M1043.6 386.9h0M1049 339.3h0M1050.8 501.3h0M1061.5 420.5h0M1061.6 458h0M1071 398.2h0M1078.6 464.3h0M1079.8 339.5h0M1104.3 339h0M1104.7 393.4h0M1110 374.9h0M1126.1 339.1h0M1152.9 339.1h0M1171.9 339.4h0M1198.2 339.2h0M1228 339.3h0M1246 339.5h0M1266.1 339.3h0M1292.2 339.4h0M1319.5 339.7h0M1344.4 339.3h0M1422.4 339.3h0M1440.2 339.4h0M1468.5 339.2h0M1577 339.2h0M1681.4 339.4h0"/>
<path d="M274.3 835.9h0M283.6 885.7h0M286.7 852.6h0M296.7 734.2h0M300.3 820.1h0M300.6 866.3h0M300.7 797.7h0M303 887.4h0M304.5 846h0M305.6 907.4h0M307.3 760.2h0M312.8 776.7h0M318.2 878.2h0M318.6 733.4h0M320.2 917.4h0M320.8 818.2h0M321.1 795.6h0M323.2 841.3h0M325.3 860.5h0M326 894.4h0M343.1 815.7h0M346.5 783.6h0M350.1 919.3h0M355.1 895.3h0M360.4 809.5h0M360.6 733.8h0M364.9 751.4h0M368.7 907.9h0M368.8 681.1h0M371.6 795.5h0M376.6 924.7h0M379.1 776.6h0M386.7 679.1h0M388 941.2h0M388.5 528.8h0M389.3 755.9h0M389.6 704.5h0M392.5 726.8h0M400 904.2h0M402.6 688.5h0M405.9 750.7h0M406.3 922.2h0M407.7 648.7h0M408.5 591.9h0M413.1 727.8h0M416.2 709.4h0M416.3 339.2h0M417.2 509h0M417.9 894.7h0M422.4 672.5h0M423.9 630.3h0M425.2 690.3h0M430.9 537.2h0M434.4 913.3h0M436.7 642.2h0M440.2 566.3h0M442.7 590.8h0M445.1 895.3h0M447.1 669.4h0M455.7 608.9h0M458.2 909.6h0M458.3 482h0M458.8 639h0M460.5 573.8h0M461 657h0M469.7 508.7h0M470 547.6h0M470.6 890.4h0M473.4 339.4h0M474.7 607.6h0M475.4 525.3h0M478.1 625.4h0M480.6 590.9h0M482.7 876.7h0M483.2 489.7h0M486.6 562.1h0M487.4 897.3h0M489.5 544.2h0M494.6 402.6h0M495.9 464.1h0M496.5 576.5h0M497 913.9h0M499.6 619.8h0M500.3 530.3h0M501.8 879h0M505.8 602.2h0M507.6 895.7h0M508.2 339.2h0M513.1 472.5h0M513.4 569.3h0M513.8 402.6h0M515.6 540.3h0M519.1 587.7h0M520.6 508.9h0M521.4 620h0M523.3 873h0M526.4 339.3h0M528.7 417.4h0M532.8 474.6h0M533.4 447.8h0M535.7 568h0M535.7 600.5h0M537.7 526.9h0M539.2 618h0M540.1 507.6h0M540.1 881.2h0M544.3 339.5h0M549.3 585.4h0M550.5 554h0M551.3 465.3h0M552 494.2h0M553.5 865.6h0M553.9 607.9h0M557.2 415.8h0M557.9 535.5h0M564.4 380h0M567.8 881.5h0M568.1 566.7h0M569.2 597.4h0M571.2 503.9h0M572.9 855.2h0M573.3 339.4h0M573.5 617.6h0M573.8 405.2h0M575 476.7h0M580.7 550.2h0M580.7 446.4h0M584.8 379.1h0M588.2 887h0M588.8 494h0M589.3 604.7h0M589.8 534.5h0M590.1 850.7h0M590.7 586.2h0M591.5 565h0M596 474.9h0M596.3 398.5h0M598.1 508.7h0M598.5 867.6h0M599.3 425.5h0M604.9 444.4h0M605.8 364.6h0M607.1 345.9h0M609.2 531.9h0M612.2 852h0M612.8 612.1h0M613.1 589.8h0M613.2 463h0M617.6 547.3h0M618.1 407.9h0M621.9 886.5h0M624 501.7h0M625.3 388.1h0M625.4 484.3h0M625.5 434.9h0M625.9 339.6h0M627.4 866.5h0M627.6 531.1h0M629.1 562.5h0M630.6 464.8h0M634 607.8h0M636.1 589.1h0M636.6 414h0M640.3 854.8h0M642 392.9h0M643.7 875.5h0M644.3 352.4h0M651.9 551.8h0M654.4 490.2h0M658.2 468.8h0M659.2 339.5h0M659.2 531.3h0M660.7 402.6h0M661.6 834.9h0M662 513h0M662.1 576.6h0M664.4 860.6h0M666.4 435.8h0M667.1 596.4h0M671 387.3h0M675.2 539.9h0M677.5 483.4h0M678.9 503.4h0M680.5 454.4h0M680.8 844.3h0M680.9 559.4h0M681.3 420.3h0M681.6 583.8h0M681.9 824h0M682 339.2h0M684 372.5h0M690.2 355.1h0M690.8 526.9h0M692.5 395h0M697.1 547.8h0M697.8 447.2h0M698 848.9h0M699.9 503.6h0M700.3 809.2h0M701.3 477.7h0M701.3 339.3h0M706.2 581.1h0M707.8 830.5h0M709 386.1h0M711.7 559.4h0M714.8 403.2h0M715.5 860.2h0M715.6 441.2h0M716.4 361.3h0M717 499.4h0M717.5 534.7h0M718.1 458.9h0M719.5 806.3h0M725.9 339.5h0M726.6 827.7h0M728.5 578.7h0M728.7 382h0M733.6 432.1h0M734.5 516.2h0M738.3 562.6h0M738.4 785.2h0M739.8 452.3h0M740.4 538.5h0M740.6 496.6h0M741.1 471.9h0M743.6 393.6h0M744.4 339.3h0M749.7 805.6h0M752.1 765h0M752.7 414h0M756.5 503.7h0M760.1 785.8h0M762 733.3h0M762.5 356h0M763.5 551.3h0M766.5 389.2h0M768.8 812.5h0M770 447h0M770 487.1h0M770.9 749.9h0M771.1 534.3h0M771.8 424.6h0M776.8 510.1h0M777.8 339.3h0M778 723.5h0M780.2 783.1h0M780.2 471h0M782.9 765.2h0M785.7 439.4h0M790.3 358.9h0M790.4 798.5h0M790.9 456.3h0M793.2 541.6h0M793.6 738.2h0M794.1 709.4h0M796.9 776.1h0M798.7 339.8h0M798.8 479.2h0M800.7 503.3h0M801.6 523.1h0M807.6 751.7h0M807.7 688.5h0M813.2 728.4h0M813.7 390.4h0M815.6 672.4h0M816.1 423.6h0M817.7 478.8h0M819.6 530.5h0M820.2 453h0M822.5 702.7h0M822.6 339.3h0M823.5 501.1h0M825.1 751.3h0M826 655.9h0M832.2 376h0M834 519.7h0M836 675.2h0M837.5 406h0M838.4 471.3h0M839.3 692.7h0M843.3 451.3h0M844.9 339.2h0M845.3 632.2h0M845.6 660.5h0M847.4 530.8h0M848.1 425.8h0M848.2 507.3h0M849.3 555.7h0M853.2 615.7h0M854.7 385.4h0M860 594.3h0M860.8 648.3h0M863.3 570.1h0M863.6 469.6h0M865.1 630.4h0M865.5 407.7h0M866 704.8h0M866.9 339.1h0M866.9 440.5h0M867.1 524.2h0M872.1 496.1h0M873.1 545.8h0M874.2 664.7h0M877.9 598.6h0M878.4 616h0M880 391.9h0M882.4 648.2h0M882.7 479.3h0M885.2 686.3h0M886.3 450.4h0M886.7 339.4h0M887 582.4h0M887.1 524.3h0M887.7 432.3h0M890.3 503h0M890.5 543.6h0M893.1 407.5h0M894.9 565.3h0M895.2 467.1h0M896.6 612.7h0M899.3 636.6h0M899.5 675.9h0M903.3 594.4h0M904.9 448h0M906.5 339.3h0M906.7 512.4h0M907.3 488.9h0M907.5 389h0M910.2 550.4h0M916.1 613.4h0M917.2 530.6h0M918.9 633.4h0M921.7 566.1h0M922.5 446.6h0M923.9 339.4h0M925 588.1h0M925.7 488.2h0M927.9 648.4h0M932.8 361h0M933 620.1h0M936.4 521.1h0M939.8 439.1h0M941.1 543.6h0M944.9 578.2h0M945.3 387.3h0M946.4 413.7h0M949.8 597.1h0M953.5 466.9h0M954.7 339.4h0M955.8 527.3h0M958.4 483.8h0M960.9 646.8h0M962 611.7h0M963 440.9h0M963.3 584.8h0M967.3 413.2h0M969.2 562.7h0M969.9 543.4h0M973.2 465.4h0M976.9 525.7h0M981.8 495.6h0M984.2 339.2h0M986.6 429.2h0M987.7 559.6h0M990.7 466h0M992.1 393.6h0M994.5 447.1h0M994.7 374.9h0M1001.9 339.2h0M1004.8 499.7h0M1006.1 481.4h0M1006.1 532.4h0M1012.6 449h0M1020.4 339.1h0M1022.8 514.2h0M1030.2 446.8h0M1031.5 540.8h0M1033.7 411.6h0M1043.2 487.2h0M1045.3 339.2h0M1048 440.3h0M1064.2 424.1h0M1066.9 339.2h0M1077.2 459.1h0M1089.6 339.5h0M1123.3 339.3h0M1144 339.3h0M1175.1 339.4h0M1200.2 339.3h0M1217.8 339.4h0M1236.9 339.4h0M1259.3 339.3h0M1282.7 339.4h0M1304.6 339.2h0M1325.3 339h0M1357.9 339.2h0M1411.1 339.3h0M1450.6 339.3h0M1679.8 339.1h0"/>
<path d="M275.6 860.5h0M277.2 892.5h0M282.5 828.9h0M293.2 850.9h0M293.4 899.6h0M295.9 767h0M304.5 800.1h0M305 869.6h0M306.9 910.9h0M311.3 733.4h0M313.1 758.9h0M313.4 893.9h0M314.8 828.6h0M317.4 850.8h0M324.6 909.7h0M325.9 881.6h0M333.1 830.8h0M333.6 925.3h0M334.7 806h0M336 734.2h0M341.3 787h0M347.5 820.4h0M349.1 753.1h0M353.3 901.1h0M355.7 731.1h0M357 918.9h0M359.7 787.8h0M363.3 809.9h0M371.3 897.8h0M374.9 929.9h0M375.4 771.8h0M375.7 698.1h0M376.6 728.5h0M377.1 796.3h0M380.1 680h0M380.8 747.2h0M393.3 702.7h0M393.8 767h0M395.8 905.3h0M397.1 927.4h0M398.1 743.9h0M399.5 720.5h0M399.8 339.2h0M404.2 641.8h0M409.4 608h0M413.7 904.9h0M413.8 677.9h0M415.1 660.4h0M420.9 720h0M422.4 696.8h0M422.8 636.6h0M426 924.8h0M430.9 620.6h0M433.2 680.7h0M435.2 553.5h0M438 906.1h0M441.4 591h0M442.6 654.5h0M449.5 670.7h0M453.9 626.1h0M456.4 896.8h0M458.7 527.4h0M460 643.5h0M461.2 575.5h0M463 545.3h0M467.8 483.8h0M468.9 339.1h0M469.4 596.7h0M470.8 614.9h0M472.2 887.7h0M475.8 522h0M478.3 631.9h0M479 555.1h0M480.5 497.2h0M486.5 576.6h0M489.5 893.3h0M489.7 339.3h0M490.1 458.4h0M494.5 624.7h0M497.2 595.1h0M499 536.2h0M503.7 557.9h0M507.1 612.3h0M507.5 471.6h0M508.1 883.7h0M508.6 576.1h0M508.7 397.4h0M511.8 901.6h0M514.4 339.6h0M515.1 543.3h0M518.5 517h0M520.3 495.7h0M524.2 449.9h0M525 619.6h0M525.9 581.5h0M527.5 425.4h0M527.7 881.1h0M529.9 599h0M531.2 559h0M533.2 339.1h0M535.3 481h0M540.5 499.2h0M543.3 530.2h0M543.8 452.8h0M544.8 890.5h0M545.3 582.3h0M548.2 609.4h0M550.2 550.4h0M551.5 863.9h0M554.6 476.9h0M556.9 511.4h0M557.1 566.9h0M561.9 416h0M564.3 602.5h0M567 892.1h0M568.1 339.2h0M568.4 541.1h0M572.3 871.8h0M573.2 480.1h0M577.9 454.9h0M577.9 854.4h0M578.4 399.6h0M578.4 580.1h0M579.3 526.7h0M580.2 417h0M582.1 497.9h0M582.5 597.3h0M583 617.9h0M587.9 552.6h0M589.1 889h0M589.5 339.1h0M592.8 864.7h0M593.9 471h0M594.9 446.8h0M597.1 607.4h0M600.9 380.4h0M603.3 524.4h0M606.4 586.9h0M607.1 339.3h0M607.5 569.2h0M608.1 853.9h0M608.4 400.5h0M609.6 877.4h0M609.7 462.4h0M610 492.8h0M610.6 547.5h0M614 615.2h0M623.9 562h0M624.9 502.6h0M625.3 412.2h0M626.2 480.5h0M627.6 854.2h0M627.9 339.2h0M629.8 448.9h0M631 598.4h0M632.4 530.2h0M637.6 575.6h0M641 465h0M641.7 841.5h0M645.8 339.3h0M646.3 870.4h0M649.2 610.9h0M649.9 492.1h0M650.6 551.4h0M651.6 389.2h0M651.7 590.7h0M655.9 852.9h0M658.9 566.8h0M660.1 519.7h0M664 458.7h0M666 499h0M668.8 548.3h0M669.4 479.9h0M669.9 365.6h0M670.7 419.1h0M671.1 439.1h0M671.1 837.8h0M671.9 604h0M672.2 339.4h0M676.3 570.3h0M681.6 467.4h0M681.9 821h0M682.8 391.6h0M683.9 538.3h0M685.8 847.9h0M686.3 494.5h0M686.6 429.6h0M689.4 596.6h0M689.9 516h0M690.3 362.1h0M694.4 451.6h0M694.5 339.3h0M695.3 579.6h0M697.5 561.1h0M701.2 388.6h0M703.5 804h0M707.1 842.1h0M707.3 412.2h0M709.3 540.5h0M709.9 820.3h0M711.5 458h0M712.1 339.1h0M712.2 478.3h0M713.9 509.3h0M716 432.7h0M718.5 586.4h0M719.5 399.4h0M721.5 802h0M726.5 448.8h0M727.5 782.2h0M727.6 537.5h0M727.6 822.8h0M729.7 565.3h0M730.9 503h0M731.1 339.1h0M736.8 486.4h0M738.2 388.7h0M743.9 793.8h0M744.6 457.6h0M744.8 417h0M747.9 528.8h0M748.9 557.7h0M751.6 760.4h0M755 442.5h0M757.1 487.5h0M757.8 339.3h0M758.3 738.1h0M760.3 515.5h0M762.6 540.8h0M764.4 812.6h0M765.9 396.6h0M766 776h0M769.8 754.7h0M772.3 498.3h0M773.9 559.7h0M776.1 463h0M780.2 731.8h0M782.1 531.9h0M783.9 512.1h0M786 761.4h0M786.1 339.4h0M787.3 482h0M788.7 780.9h0M789.4 715h0M795 452.8h0M796.8 435.3h0M798 498.5h0M801.9 745.6h0M802.1 515.6h0M802.5 539.6h0M803.2 676.1h0M806.9 693.9h0M807.7 339h0M808.8 477.9h0M814.8 767.4h0M819.5 750.1h0M820.4 453.9h0M821 509.9h0M824.2 670.6h0M826 647.7h0M828.6 474.8h0M829.8 531.1h0M830.1 698.2h0M830.2 339.2h0M832.9 421.7h0M834.1 491.8h0M834.8 401.1h0M839.3 682.9h0M839.4 628.9h0M840.3 516.3h0M842.7 657.3h0M847.8 443.1h0M848.1 339.5h0M849.6 475.7h0M849.6 542.4h0M852.8 409.5h0M854.8 563.2h0M855 583.9h0M857.5 635.9h0M857.6 618.1h0M857.7 496.2h0M858.2 698.6h0M858.4 668h0M865.2 519.4h0M865.9 339.5h0M866.1 599.5h0M867.7 549.1h0M870.6 718h0M871.4 652.7h0M871.8 571.6h0M872.3 451.9h0M874.5 472.9h0M875.6 616.8h0M882 501.5h0M887.5 519.1h0M887.8 539.6h0M888.3 668.9h0M889.3 482.4h0M890.6 564.8h0M890.6 647.4h0M891.5 629.9h0M891.5 609.8h0M892.4 590.5h0M899.9 339.3h0M901.3 418.1h0M903.1 497.4h0M906.6 450h0M909 401.2h0M909.8 520.6h0M910 684.3h0M910.7 626.2h0M913.4 580.9h0M914.4 608.6h0M914.6 558.6h0M919.4 437.9h0M921.5 339.2h0M923 505h0M926.8 644.6h0M931.9 487.1h0M933.6 519.3h0M933.9 378.7h0M934.1 622.4h0M934.8 540.8h0M940.2 559.6h0M940.7 358.4h0M942.9 453.7h0M944.6 395.7h0M949 580.8h0M950.8 474.1h0M952.1 339.4h0M952.9 420.6h0M954.7 514.9h0M957.7 618.8h0M957.7 551.2h0M958.8 533.4h0M961.2 457.5h0M969.8 491.2h0M971 339.4h0M971.8 427.7h0M975.4 548.1h0M976.3 517.6h0M988.5 442.9h0M990.5 559.8h0M992.2 485.9h0M996.3 503.5h0M1004.7 339.2h0M1012.2 526h0M1018.7 544.1h0M1022.4 441.9h0M1024.4 507.7h0M1030.5 483.9h0M1031 458.7h0M1034.1 339.3h0M1044.9 437.8h0M1047.6 474.8h0M1052.1 494.6h0M1056.9 339.6h0M1077.6 339h0M1100.2 339.4h0M1122.2 339.3h0M1140.7 339.4h0M1163.5 339.2h0M1184.2 339.3h0M1202.7 339.5h0M1228.7 339.1h0M1259 339h0M1299.2 339.1h0M1328.8 339.2h0M1414.4 339.3h0M1453.4 339.4h0M1681.5 339.7h0"/>
<path d="M273.9 857.8h0M276.3 889.8h0M286.8 828.9h0M290 873.7h0M291.1 799.8h0M296.8 897.2h0M299.1 768h0M304.1 858.3h0M308.5 881h0M309.6 914.7h0M311.5 741.3h0M315.6 797.3h0M317.2 823.6h0M318.8 773.3h0M318.9 897.8h0M323.6 869.9h0M329.6 843.4h0M329.9 809.4h0M336.3 905.8h0M339.7 793.2h0M344.8 822h0M349 746.6h0M350 723.1h0M356.7 806.2h0M356.7 780.6h0M358.5 904.7h0M367.8 756.3h0M371.4 921.4h0M374.2 782.5h0M375 709.2h0M380.1 902.3h0M382.3 766.4h0M385.2 691.9h0M387.6 747.1h0M392.3 718h0M393.6 917.3h0M394.3 941.6h0M401.9 897h0M403 759.2h0M405.5 738h0M405.8 693.3h0M410.1 665.8h0M410.5 912.2h0M415 715.4h0M421.2 623.8h0M421.8 684.1h0M422.9 644.4h0M430 702.7h0M434.6 905.6h0M436.9 549.5h0M439 577.3h0M444.3 648h0M447.1 668.5h0M449.9 591.4h0M454.4 614.7h0M460.6 514.2h0M461.7 651.3h0M462.4 559.5h0M462.5 883h0M464.4 905.5h0M470.4 530.5h0M473.1 633.6h0M475.9 574h0M477.6 591.4h0M478.4 339.5h0M481.3 615.6h0M485.4 543.1h0M490.2 521.5h0M492.7 889h0M499.2 605.6h0M500.1 627.2h0M500.6 339.4h0M502.1 584.5h0M503 562.5h0M504.8 395.1h0M507.9 526.3h0M509.3 472.1h0M509.7 897h0M518.1 339.1h0M519.1 450h0M519.3 617.5h0M520.6 569.8h0M522.4 505.4h0M523.7 395.1h0M527 589.6h0M528 550.5h0M529.4 880.5h0M530.1 480.2h0M531.7 526.4h0M538.3 620.2h0M541.5 339.5h0M542.3 892.6h0M546.2 598.3h0M546.4 574.5h0M547.5 450h0M551.5 875.6h0M551.9 545h0M552.2 522.7h0M567.2 560.8h0M568.1 472.8h0M569.2 863.5h0M569.3 880.9h0M569.4 610.7h0M570.2 527.3h0M573.8 339.4h0M576.4 584.3h0M577.4 392h0M577.7 493.7h0M578.5 411.9h0M584.9 516.7h0M585.5 601.3h0M588.9 452.7h0M589.4 534.4h0M589.7 479.8h0M592.1 554.4h0M594.9 404.1h0M595.2 900.9h0M595.6 880.7h0M596 857.8h0M597.4 380.5h0M597.9 497.5h0M598.5 614.7h0M599.8 577.9h0M602.1 439.8h0M605.5 460.1h0M607.3 339.3h0M607.8 529.2h0M608.6 546.8h0M609.8 511.4h0M612.3 565h0M613.7 590h0M615.8 490.1h0M617.8 397.7h0M619.2 613.7h0M619.5 863.3h0M620.4 844.7h0M625.7 413.6h0M626.2 545.4h0M626.3 449.1h0M630.7 577h0M631 339.3h0M632 468.1h0M633.3 488.3h0M635.7 854.3h0M638.6 523.1h0M640.3 602.7h0M644 387.7h0M648.3 564.3h0M649 475.5h0M650.3 339.4h0M652.5 543.2h0M653.7 841.1h0M655 402.6h0M657.1 880h0M657.5 861.9h0M658.1 455.8h0M658.3 504.3h0M661.1 579h0M667.7 476h0M670 533.8h0M671.9 433.4h0M672.9 604.9h0M674.5 843.4h0M675.5 509.8h0M678.7 562.8h0M678.7 455.6h0M678.7 392.7h0M681.2 580.5h0M683.1 339.1h0M686.1 828.2h0M690.6 482.4h0M690.7 598.3h0M692.6 429.6h0M693.3 544.8h0M697.2 573.7h0M697.9 393.4h0M702.5 507.2h0M704.2 817.9h0M705.9 339.1h0M706.7 464.1h0M706.8 557.1h0M708.4 590.4h0M709.7 482.4h0M711.1 535.1h0M713.2 833.5h0M713.5 403h0M716.2 446.9h0M716.5 850.6h0M720.9 510.8h0M721.9 573.8h0M725.2 796.9h0M725.5 385.8h0M726.4 556.7h0M727.3 339.2h0M727.7 418.9h0M731.5 486.3h0M733.1 527.6h0M733.4 468.3h0M734.2 813.1h0M741.9 772.8h0M741.9 505.5h0M743.9 791.8h0M744.2 551.6h0M745.2 394.8h0M746.8 573.1h0M747.9 339.3h0M751.6 479.6h0M755.6 744.9h0M755.9 817h0M756.9 531.7h0M760.2 459.6h0M760.6 381.2h0M761.6 795.5h0M762.2 511.7h0M764.9 555.6h0M766.5 431.6h0M766.8 759.6h0M770.1 408.9h0M772.7 339.3h0M774.8 717.3h0M777.2 496.7h0M777.8 814.3h0M779.4 446.8h0M780.4 542h0M781.4 781.4h0M784.3 523.8h0M784.5 465.5h0M785.3 756.4h0M785.6 738h0M790.5 352.4h0M792.3 796.9h0M796.7 492.7h0M798 538.3h0M798 433.1h0M798.6 720.9h0M799.2 701.6h0M800.3 456.2h0M803 339.4h0M803.8 680.8h0M804.2 476.6h0M807.7 745h0M810.7 522.4h0M812.8 501h0M819.2 465h0M820.1 539.9h0M820.8 662.2h0M821.1 339.7h0M821.5 708.2h0M821.8 761.4h0M827 489.6h0M829 446.3h0M834.5 642h0M834.7 679.8h0M835.6 414.7h0M836.4 533.6h0M836.9 511.9h0M838.7 394.3h0M844.3 339.3h0M844.6 694.1h0M848.9 444.1h0M849.9 631.7h0M851.6 466h0M854.2 655.2h0M854.6 591.1h0M855 551.5h0M856.9 507.9h0M857.8 569.6h0M861.9 615.8h0M862.1 483.5h0M863.3 719.7h0M864.3 339.3h0M865.2 409.1h0M867.4 690.1h0M869.7 533.2h0M874.5 497.7h0M874.7 449h0M875 662.2h0M880.4 564.1h0M882 609.5h0M885 339.2h0M885.1 630.5h0M887 526.1h0M887.1 580.6h0M888.6 473h0M890.8 673.9h0M895.1 493.6h0M895.5 651.5h0M899.6 416.9h0M902 562.2h0M902.8 339.2h0M903.5 513.8h0M907.7 597.4h0M908.8 632.3h0M915.5 672.4h0M917.2 496.5h0M918.8 476.2h0M919.2 543.8h0M921.6 650.4h0M921.8 521.5h0M924.7 453.9h0M925.6 611.2h0M926 561.6h0M930.7 388.3h0M930.8 339.5h0M932.9 505.3h0M935.7 488h0M936.3 592.1h0M936.5 367.2h0M937.1 535.4h0M938.9 636.4h0M944.3 433.8h0M944.7 558.8h0M948.6 383.9h0M952.6 401.9h0M954.8 577.2h0M955.8 339.4h0M957.1 460.8h0M963.5 558.7h0M967.3 429.7h0M968.1 518h0M970.2 488.4h0M976 339.2h0M981.8 547.1h0M991.6 443h0M997.3 499.6h0M999.5 339.2h0M1001.4 554.2h0M1016.3 519.1h0M1024 457.4h0M1032.9 339.4h0M1033.1 505.8h0M1035.6 439.8h0M1039.7 486.6h0M1065.5 339h0M1080 350.7h0M1100.1 339.5h0M1119.5 339.4h0M1150.6 339.2h0M1170.2 339.5h0M1188.3 339.6h0M1206.8 339.4h0M1228.3 339.2h0M1251.3 339.5h0M1274.3 339.5h0M1302.8 348h0M1437.2 339.7h0M1680.9 339h0"/>
<path d="M283.9 829.5h0M289.5 862.5h0M297.8 753.7h0M297.9 885h0M303 783.6h0M307.7 858.9h0M316 875.1h0M318.4 901.3h0M319.4 826h0M321.4 843.6h0M325.4 921.1h0M336.4 891.1h0M336.7 830.8h0M337 808.8h0M344.5 909.7h0M346.8 790.8h0M352.2 733.7h0M352.6 817.5h0M362.1 921.1h0M364.9 903.6h0M370.7 766.4h0M370.9 795.6h0M372.6 686.8h0M381.4 781.7h0M383 740.4h0M384.7 908.1h0M389 926.8h0M392.8 681.6h0M394.1 700.5h0M394.2 759.5h0M404.2 741.4h0M404.5 653h0M408.1 901.2h0M410.5 632.8h0M416.1 712.3h0M419.4 685.3h0M419.5 729.5h0M420.4 664.7h0M422.6 919.7h0M430.6 896.9h0M432.6 702.7h0M436.3 639.1h0M438.4 657.1h0M440.6 587.8h0M445.1 605.9h0M447.5 672.1h0M455.2 906.8h0M455.6 642.9h0M461 622.9h0M465.2 885.1h0M467.1 567.6h0M469.4 589.7h0M473.8 610.8h0M478.5 629h0M480.1 539.4h0M484.2 894.8h0M495 878.6h0M495.5 558.6h0M499.1 626.7h0M499.8 599.6h0M501.6 896.1h0M504.6 339.3h0M506.9 480.1h0M508.5 570.8h0M511.9 614.5h0M512.1 528.9h0M516.6 464.4h0M518.6 402.6h0M520 547.7h0M521.4 895.6h0M522.7 339.2h0M523 582h0M527.2 445.9h0M527.9 505.3h0M529.6 879.3h0M535 468.5h0M537 596h0M537.4 487.2h0M538.8 521h0M539.5 570.6h0M539.7 613.4h0M540.2 545.8h0M547.9 892.3h0M552.3 339.3h0M553.7 870.1h0M554.5 591.7h0M555.7 464.2h0M555.9 561.8h0M566.2 539.1h0M566.9 888.5h0M567.6 496.5h0M568.1 859.9h0M569.5 414.6h0M570.1 604.4h0M573.8 581.9h0M576.8 338.9h0M579.8 564.2h0M583.2 505.5h0M584.4 543.3h0M584.9 871h0M587.6 445.8h0M590.8 405.4h0M592.3 523h0M592.8 588.8h0M594.8 610.8h0M602.8 339.5h0M603 558.7h0M604.1 439.8h0M604.7 505.6h0M605.7 469.2h0M606.5 862h0M612.1 486.4h0M614.1 572.7h0M615.5 603h0M616.9 539h0M622.7 842.6h0M623.8 516.5h0M624 458.1h0M631.7 577.8h0M631.9 404.6h0M632.6 609.6h0M632.9 865.7h0M633.9 427.2h0M635.6 471.6h0M636.6 339.3h0M642.5 847.8h0M644.4 596.7h0M644.5 535.2h0M647.1 554.1h0M652.3 509.6h0M654.7 485.7h0M656.2 339.5h0M658.1 869.9h0M661.6 844.9h0M663 524.6h0M665.3 462.2h0M665.6 599h0M666.6 569.4h0M671 433.8h0M673.7 339.3h0M674 498.5h0M676 539.8h0M680.8 521.3h0M680.8 834.7h0M682.5 594.1h0M683.2 817.1h0M684.9 570.6h0M686.7 458.1h0M690.1 475.8h0M692.5 339.6h0M695.4 414.7h0M696.1 378.3h0M697.1 540.6h0M697.7 558.8h0M702.6 822.2h0M702.6 594.8h0M705.2 849.9h0M705.5 451.1h0M706.6 514.6h0M706.6 574h0M707.7 433h0M707.8 468.5h0M712.3 391.3h0M715.9 339.2h0M717.2 486.9h0M717.6 809h0M717.9 556.5h0M719.2 529.7h0M722.5 405.8h0M723.2 454.7h0M725.6 838.4h0M725.8 584.1h0M729.5 792.2h0M731.6 502.7h0M731.8 439.5h0M736.1 568.6h0M737 545.8h0M738.5 339.5h0M740.6 776.8h0M741.2 457.5h0M745.8 760.1h0M746.4 515.3h0M752.9 801.9h0M753 490.4h0M753.3 471.3h0M756.6 558h0M757.9 531.4h0M764.7 339.3h0M765.3 750.7h0M765.9 506.8h0M766.9 728.4h0M769.3 820.1h0M773.5 490.6h0M776.7 448.7h0M777.4 523.2h0M778.4 768.5h0M778.6 556.4h0M779.2 467.6h0M780 710.6h0M784.8 339.1h0M786.2 728.3h0M787.9 540.3h0M789.4 507.6h0M795 743.6h0M795.2 491.1h0M798.5 685.3h0M800.6 717.3h0M801.6 471.1h0M807.2 518.2h0M807.6 700.8h0M811.3 665.6h0M815.6 501.3h0M816.1 339.3h0M820.6 466.1h0M821.9 484.7h0M826.2 395.4h0M826.9 536.9h0M828.2 650h0M828.7 700.8h0M830.3 448h0M834.7 339.5h0M836.8 412.7h0M837 499.3h0M839.1 667h0M840.6 523.4h0M847.1 689.2h0M850.1 475.5h0M850.4 617.1h0M850.7 558.6h0M852 635h0M853.5 537.7h0M854.4 510.1h0M854.6 598.6h0M855.7 707.3h0M857.4 339.5h0M857.6 576.5h0M858.1 651.9h0M863.5 451.6h0M869.4 563.1h0M869.6 673.2h0M869.8 611.4h0M871 536.1h0M871.2 637.4h0M873.2 487h0M875.1 468.3h0M877.5 711.4h0M877.5 519.5h0M878.5 596.1h0M882.8 339.4h0M886.1 422.4h0M887.7 496.9h0M888.5 550.8h0M888.7 621.9h0M889.4 577.2h0M889.9 643.2h0M894.6 469.7h0M896 517.8h0M898.7 602.6h0M903.6 416.5h0M908 545h0M909.9 339.2h0M914.8 585h0M918.5 520.8h0M919 560h0M919.7 619.7h0M920.3 490.9h0M932.3 636.6h0M933.3 339.2h0M934.5 541.1h0M936.3 441.5h0M937.4 517.1h0M939.1 471.7h0M944.1 367.8h0M945.2 576.9h0M949.8 555.3h0M950.3 485.2h0M952 594h0M956.1 339.3h0M960.5 399.2h0M961.8 460.5h0M967.1 512.6h0M967.2 425.2h0M971.4 476.3h0M979.9 564.3h0M981.3 542h0M981.4 339.3h0M982.1 448.8h0M995.2 505.2h0M999.9 339.3h0M1009.3 529.5h0M1013.9 502h0M1019.6 455.1h0M1025.2 339.5h0M1029.4 477.9h0M1051.4 339.4h0M1077.5 339.4h0M1096.1 339.2h0M1119.1 339.2h0M1140.7 339.4h0M1172.7 339.5h0M1200.3 339.2h0M1227.6 339.3h0M1251.9 339.5h0M1282.2 339.5h0M1306.6 339.2h0M1447.7 339.6h0M1670.6 339.3h0"/>
<path d="M275.6 828.9h0M283.3 888.3h0M291.1 852.8h0M298.9 870.2h0M301.3 895.6h0M303.9 797.3h0M307.7 830.4h0M310 765.7h0M314.2 858.2h0M318 889.3h0M319.6 907.4h0M320.3 926.9h0M327 830.8h0M331.5 792.7h0M337.7 892.8h0M343.6 808.9h0M349.2 781.5h0M352.9 909.1h0M355.3 927.2h0M361.6 812.8h0M364.3 894.7h0M365.2 771.9h0M368.1 791.6h0M372.2 747.3h0M374.4 913.7h0M379.3 686.8h0M386.1 763h0M386.2 784.8h0M386.3 897.6h0M391.6 745.2h0M399.7 910.9h0M401 713.5h0M409.2 675.4h0M412.4 742.5h0M412.9 640.9h0M414.9 926h0M415.3 699.7h0M416.9 896.2h0M418.7 722.6h0M427.8 683.1h0M431.5 630.1h0M432.8 702.9h0M433.3 911.6h0M436.1 598.5h0M445.8 642.4h0M449.5 665.1h0M450.1 905.6h0M453.6 591.3h0M461.8 652.7h0M462.6 608h0M464.4 888.4h0M467.9 906.1h0M468.4 633.6h0M472.5 590.1h0M473.7 540.3h0M474.8 558.4h0M481.2 620.5h0M483.3 888.2h0M492.3 903.4h0M493.3 606.1h0M494.7 567.8h0M497 587.1h0M502.8 533.4h0M505 879.6h0M506 623.8h0M509.5 549.5h0M510.1 339h0M513.9 576.8h0M514.2 608.1h0M517.7 467.4h0M520.6 522.7h0M523 891.1h0M529.1 339.3h0M530.8 483.8h0M534.1 510.1h0M536.8 573.8h0M536.9 552.5h0M537.6 866.2h0M540.5 887.3h0M540.5 592h0M543.7 618.8h0M545.4 460.7h0M545.7 530h0M550.1 339.2h0M554.2 859.3h0M555.3 603.5h0M555.4 876.9h0M555.5 550.6h0M561.7 472.4h0M562.9 570.7h0M567 531.8h0M569.1 510.6h0M570 587.1h0M570.7 419.8h0M572.7 869.4h0M573.6 607.3h0M574.2 400.7h0M582.4 339.2h0M586.1 549.5h0M586.3 516.9h0M590.2 579.5h0M592.2 606h0M594.2 500.5h0M595 849.8h0M595.4 878h0M596.9 464h0M600.1 563.8h0M600.2 402.6h0M600.3 339.4h0M607.4 581.9h0M608.3 547.7h0M610 529.5h0M610.7 862.4h0M613.5 602.4h0M615.6 844.2h0M620 339.5h0M622.8 417.6h0M627.2 478.7h0M628.7 593.5h0M629 516h0M629.5 535.7h0M632.3 564.5h0M636.6 611.3h0M640.2 392h0M640.6 853.3h0M641.5 581h0M648 509.9h0M650.4 557.1h0M650.6 339.2h0M651.1 596.7h0M655.3 536.2h0M656.2 840.3h0M660.5 496.3h0M661.7 860.2h0M663.5 579h0M665.6 607h0M667.3 423h0M667.7 454.5h0M668.4 339.2h0M668.5 478.3h0M670.2 829.3h0M674 513.6h0M676 547.7h0M676.9 845.7h0M680.5 597.8h0M680.9 491.4h0M685 571.7h0M685.1 530.4h0M686.6 339h0M689.6 473.5h0M690.1 455.4h0M694 550h0M696.6 419.5h0M696.7 819h0M699.3 582.7h0M702.2 511.8h0M702.8 439.8h0M707.4 834.8h0M708 468.6h0M708.7 339.2h0M710.2 797.1h0M710.9 389.1h0M711.5 485.7h0M713.5 527.6h0M716.1 814.2h0M717.8 577.9h0M720 548.7h0M722.5 505h0M727.3 439.6h0M727.9 339.6h0M731.5 486.2h0M734.5 788.1h0M737.5 457.1h0M740.2 762.5h0M740.5 560.6h0M741.4 532.1h0M744.7 805.5h0M749.1 506.5h0M750 339.4h0M752 781.1h0M755.6 550.6h0M760.3 531h0M761.8 485.9h0M762.2 746.6h0M765.9 464.1h0M768.5 770.9h0M775.2 339h0M775.7 556.7h0M777.9 450.6h0M778.1 478.6h0M779.8 499.7h0M780.9 726.6h0M786.6 531.5h0M791.8 350.9h0M792 466.3h0M792.6 698.2h0M793 771.6h0M797.1 516.3h0M800.1 496.5h0M804.2 533.2h0M804.5 685.2h0M806.5 339.5h0M815 463.6h0M815.2 704.6h0M818 520.6h0M826.9 393.2h0M827.3 666.9h0M827.7 411.2h0M828.2 504.4h0M830.4 537h0M831.8 472.7h0M837.1 703h0M838.4 519.2h0M838.5 344.6h0M842.1 642.4h0M846.2 448h0M850.1 597.4h0M851.6 490.3h0M852.6 530.7h0M854.2 467.7h0M854.3 510h0M854.4 626.9h0M854.9 578.5h0M855.4 339.2h0M857.4 552.6h0M860.4 654.5h0M865 688.7h0M866.4 609.4h0M873.9 489.3h0M874.9 451.8h0M875 520.4h0M876 564.1h0M878.3 647.3h0M880.1 339.1h0M880.9 538.4h0M887.6 470.4h0M889.1 504.6h0M889.9 590.6h0M890.6 615.9h0M895.6 414.7h0M896.1 567.4h0M897.6 339h0M901.3 631.4h0M902.6 547.1h0M905.9 496.6h0M906.5 521.8h0M915.8 583.1h0M917.2 339.6h0M920.5 604.9h0M923.9 628.5h0M924.1 555.9h0M924.2 527.6h0M925.8 487.4h0M933.8 505.2h0M941.7 560.1h0M943.4 464h0M945 579.6h0M946.5 339.3h0M947 483.2h0M957.1 545.5h0M959.8 426.3h0M961.5 498.3h0M966.3 339.3h0M972.4 535.7h0M983.5 448.3h0M994.4 510.7h0M995.4 491.5h0M996.1 347.8h0M1005.4 545.6h0M1006.5 523.2h0M1011.1 452.2h0M1012.3 339.1h0M1030.8 339.4h0M1035 449.4h0M1054.7 339h0M1073 339.3h0M1092.9 339.1h0M1112.1 339.3h0M1129.8 339.2h0M1159 339.4h0M1178.6 339.6h0M1200.5 339.5h0M1222.1 339.2h0M1243.3 339.2h0M1263.3 339.2h0M1309.2 339.3h0M1453.6 339.4h0M1680.9 339.4h0"/>
<path d="M290 832.3h0M292.9 854.6h0M294.8 883.4h0M305.1 759.8h0M311.8 862.6h0M314.4 821.8h0M315.2 880.8h0M317.4 921.5h0M322.9 901.5h0M324.6 840.7h0M331.1 813.4h0M342.7 921.6h0M346.5 822.4h0M347.5 804.6h0M353.3 902.6h0M358 745.1h0M365.3 799.5h0M373.8 685.2h0M374.6 900.5h0M376.1 917.8h0M381.9 771.7h0M386 712.3h0M386.2 746.2h0M390.2 695.4h0M401.4 897.7h0M403.7 754.1h0M406.8 686.8h0M407.4 917.3h0M410 725.2h0M418.2 702h0M434.6 897.8h0M435.2 682.1h0M443 915.9h0M453.5 666.7h0M455.6 900.9h0M459.9 643.5h0M461.8 576.9h0M466.5 615.6h0M468.1 594.1h0M468.5 885h0M480.6 564.3h0M483.3 633.3h0M484.8 615h0M486 537.9h0M491.1 883.6h0M498.3 339.3h0M498.4 560.4h0M505.6 590.4h0M505.7 526.3h0M510.9 894.2h0M511.6 476.6h0M514.3 621.9h0M515.1 567.5h0M517.3 348.1h0M518 541.6h0M518.6 493.9h0M523.1 519.1h0M527.3 879.2h0M530.6 587.5h0M531.5 608.7h0M538.3 339.2h0M538.7 478.5h0M539.5 564.9h0M539.5 545h0M540.7 522.1h0M546.4 597.1h0M553.3 880.5h0M555.4 506.5h0M556.8 860.4h0M557.9 537.1h0M561.8 556.2h0M564.1 606.8h0M564.7 585.9h0M568.3 485.1h0M573.3 339.7h0M574.9 859.5h0M577.7 537.3h0M583.8 600.1h0M585.1 557.6h0M585.5 879.2h0M587.1 505.7h0M588.7 394.7h0M592 339.3h0M596.4 457.9h0M596.6 528.9h0M597.7 866h0M599.4 610.8h0M601.8 578.7h0M605.8 512.9h0M609.9 339h0M612.4 552.8h0M613.1 857h0M613.8 534.7h0M615.2 484.4h0M617.2 589.3h0M617.7 608.7h0M625.1 505.2h0M627.7 339.2h0M627.8 845.4h0M634.7 566.6h0M636.3 612.3h0M636.5 863.7h0M637 594.6h0M637.2 408.7h0M637.6 542.8h0M640.4 521.3h0M642.7 481.9h0M645.7 339.3h0M646.4 504.5h0M651.8 851.3h0M654.8 537.6h0M656.7 433.6h0M657.7 607.3h0M658.1 577.5h0M658.7 558.2h0M664.3 339.5h0M671.4 834.3h0M671.9 484.2h0M674.2 510h0M674.4 588.8h0M679.9 554.9h0M682.7 460.1h0M683.2 339.2h0M686 536.8h0M689.5 570.8h0M692.1 518.1h0M693.8 837.4h0M693.9 440.5h0M693.9 590h0M696.9 471.1h0M699.5 815h0M700.2 547.7h0M700.3 501.7h0M707.4 565.1h0M708 531.1h0M708.8 339.3h0M709.3 850.9h0M711.4 484.3h0M713.3 427h0M713.5 800.6h0M716.6 450.3h0M719.1 583.4h0M720.9 503.6h0M721.5 545.6h0M729 339.2h0M730.3 809.7h0M732 786.7h0M732.1 562.5h0M735.7 465h0M736.2 526h0M737.5 770.1h0M738.9 490.5h0M748.5 339.5h0M750.7 540.5h0M751.1 569h0M751.8 816.8h0M754.8 779.9h0M754.8 759.8h0M755 470.7h0M756.3 488.7h0M761.1 517.1h0M766.2 339.5h0M771.2 556.6h0M773.6 480.2h0M776.6 746.9h0M776.7 769.4h0M777.1 461.4h0M777.2 535.1h0M777.9 724.2h0M783.2 439.3h0M784.5 339.4h0M787.8 498.6h0M788.7 519.2h0M791.3 476.7h0M795.3 538h0M800.9 709.1h0M801.2 684.3h0M802.2 757.3h0M805.8 486.6h0M805.9 504.1h0M807.9 459.9h0M810.6 668.5h0M811.1 339.3h0M812.8 524.3h0M819 694h0M820.5 651.3h0M822.1 474.5h0M823.3 449.1h0M826.9 393.9h0M826.9 508.7h0M831.1 541.5h0M832.4 415.1h0M835.5 662.3h0M837.3 637.8h0M837.8 522.9h0M838.8 495.3h0M842.5 339h0M843.7 703.7h0M845.6 478.5h0M850 581h0M850.3 536.9h0M852.4 626.1h0M852.6 607h0M855.8 352.1h0M856 648.7h0M858.6 503.3h0M863.1 556.7h0M865 519.7h0M865.5 461.6h0M865.9 663.4h0M868.2 481h0M868.4 538.9h0M868.7 613.6h0M869 595.1h0M869.2 632h0M869.3 339.2h0M872.7 576.8h0M882 494.4h0M885.2 468.5h0M885.5 608h0M886.8 339.1h0M889 634.4h0M890.4 407.3h0M890.7 582.3h0M892.2 564h0M897 531.7h0M904.3 508.9h0M907 339.2h0M910.8 628.4h0M911.4 553.2h0M918.2 497.6h0M922.9 568.3h0M924.6 540.7h0M925.4 478.9h0M925.9 521.8h0M928.5 619.5h0M929.4 339.4h0M939.6 553.2h0M940.7 584.4h0M950.1 339.3h0M952.8 467.6h0M964.5 549.8h0M964.8 485.8h0M966.7 520.8h0M972.8 339.3h0M983.9 437h0M992 339.4h0M1007.4 486.3h0M1021.2 339.4h0M1038.6 339.4h0M1063.8 339.4h0M1083.6 339.4h0M1109.2 339.4h0M1143.2 339.5h0M1162.5 339.1h0M1183.6 339.4h0M1201.6 339.1h0M1226.4 339.5h0M1259.7 339.3h0M1292.7 339.6h0M1681.5 339.3h0"/>
<path d="M286.8 896h0M291.5 857.7h0M304.8 883.8h0M307.3 818h0M313 759.8h0M318.5 855.7h0M320 892.5h0M320.5 910.2h0M324.3 836.8h0M324.6 873.3h0M329.7 812.7h0M341.7 828.7h0M344.1 894.1h0M345.9 789.1h0M349.4 910.7h0M350.2 810h0M362.6 893.6h0M368.9 805.4h0M369.6 784.3h0M370 913.3h0M374.2 761.3h0M378.4 929.5h0M385 735.3h0M389.5 775.5h0M390.4 903.1h0M391.6 753.5h0M392.3 686.8h0M392.9 705.3h0M407.8 907.1h0M409.9 748.8h0M410.8 729h0M410.8 707.6h0M413.6 689.3h0M421.4 896.1h0M427.9 679.3h0M428.4 703.8h0M439.4 911.3h0M443.6 664.4h0M451.8 895.6h0M453.1 610.6h0M456.6 628.9h0M458.7 650.1h0M459.6 586.9h0M459.8 912.7h0M465.5 884.5h0M471.7 608.6h0M477 636.9h0M478.5 575.1h0M486.1 619.9h0M489 534.4h0M490.2 554.4h0M494.9 890.9h0M497.6 339.5h0M502.2 591.2h0M506.9 618.1h0M507.4 904.4h0M510.2 522.4h0M513.6 560.5h0M517.7 476.6h0M520.8 494.2h0M522.8 604.7h0M525.4 546.9h0M528 883.7h0M531.7 529.9h0M536.1 339.3h0M537 591h0M537.4 565.5h0M543.1 514.5h0M546.5 485.8h0M550 534.2h0M550 874.4h0M552.1 607.1h0M555.1 577.7h0M555.8 891.9h0M559.9 339.3h0M565.1 857.1h0M566 593.9h0M566.7 468.9h0M567.6 538.9h0M569 613.7h0M569.7 557h0M576.3 579.2h0M577.2 513.8h0M578 339.5h0M578.7 868.7h0M579.4 403.3h0M584 596.6h0M587.3 565.2h0M587.6 494.7h0M589.9 528.9h0M593.5 615.5h0M594.3 878.9h0M598.2 339.3h0M599.7 849.2h0M601.6 575.4h0M605 600.7h0M605.3 543.3h0M608.6 864.3h0M616.4 339.3h0M617.4 526h0M621.6 565.4h0M622.4 597.8h0M626.8 846.7h0M628 475.8h0M634 339.3h0M635 866.5h0M636.3 510.6h0M638.5 411.6h0M644.7 610.6h0M645 536.7h0M648.5 852.4h0M650 566.4h0M650.4 591.6h0M653.9 339.1h0M657.3 834.8h0M658.9 496.1h0M659.5 551.2h0M664.8 475.5h0M665.8 850.7h0M667.3 579.6h0M669.9 516.1h0M674.8 598h0M676.4 339.2h0M678.9 539.8h0M684.3 448.7h0M684.7 500.3h0M685.3 827.8h0M685.7 481.9h0M689.3 569.6h0M693.2 465.7h0M693.2 592h0M694.4 346.8h0M694.5 530.5h0M695.8 551.1h0M699.3 817.2h0M703.6 482.6h0M705.4 842.8h0M708.8 505.3h0M710.6 339.3h0M712 574.8h0M712.4 465.7h0M713.4 537.3h0M716.8 436.2h0M725.7 806.1h0M726.1 508.2h0M726.4 560.3h0M727.9 490.2h0M728.4 339.2h0M731 788.9h0M733.9 579.2h0M736.3 526.5h0M743.1 471.4h0M748 339.6h0M748.8 553.6h0M749.2 500.9h0M750.7 572.3h0M751.2 767.9h0M754.6 802.8h0M758.3 533.5h0M763.3 752.7h0M764.5 456.1h0M765.8 339.6h0M771.4 559.9h0M772 734.3h0M775.2 542.3h0M775.6 771.7h0M775.8 483.3h0M777.3 508.3h0M781.8 444.7h0M786.1 528.1h0M787.5 714.6h0M790.5 462.6h0M791.2 731.9h0M796.3 482.2h0M799.1 339.5h0M800 503h0M801.7 539.8h0M801.9 700.6h0M810.2 683.1h0M817.8 449.7h0M822 502.6h0M822.7 659.1h0M824.8 339.3h0M825.6 520.3h0M829.7 701.6h0M833.2 461.2h0M835.6 636.6h0M839.8 500h0M841.1 399.1h0M844.4 339.3h0M845.8 521.8h0M847.5 658.1h0M849.1 623.8h0M852.4 559.8h0M855.3 605.3h0M856.9 484.9h0M858.4 640.9h0M862.1 339.3h0M862.4 510.2h0M863.1 542h0M863.5 584.1h0M867.4 619.2h0M869.4 455.5h0M869.7 658.6h0M874 602.6h0M878.9 575.7h0M879.6 339.1h0M881.8 490.1h0M882.4 644.3h0M883.8 556.5h0M885.1 624.6h0M885.2 523.1h0M892.8 608h0M900.1 589.4h0M900.7 570.8h0M904.7 636.7h0M905 400.9h0M906.8 618.7h0M908 339.6h0M912.9 545.9h0M915.8 488h0M917.5 521.7h0M922.6 565.4h0M925.6 504.7h0M926.1 339.3h0M926.4 621h0M932 550.7h0M937.2 522.9h0M947.2 339.2h0M947.6 585.4h0M948.9 483.8h0M955.4 556.3h0M965.7 529h0M967 339.2h0M970.3 490.2h0M974 545.4h0M991 448h0M997 339.3h0M1018.9 339h0M1036.8 339h0M1054.7 339.4h0M1080.8 339.3h0M1099.8 339.3h0M1117.5 339.4h0M1146.8 339.3h0M1170.2 339.1h0M1192 339.6h0M1215.3 339.3h0M1246.7 339h0M1271.2 339.2h0M1682 339.1h0"/>
<path d="M288.4 856.6h0M299.3 896.5h0M306.1 754h0M306.5 859.2h0M312 879h0M314.8 905.3h0M317.2 839.9h0M324.8 855.6h0M327.9 891h0M328.9 917.9h0M334.9 811.4h0M338 828.9h0M343.3 899.3h0M354.3 796.9h0M354.9 819.4h0M360.5 893.2h0M362 916.3h0M368.6 767.5h0M374 795.2h0M376.4 686.8h0M377.3 902.2h0M381.9 779h0M383 741.4h0M386.8 917.2h0M394.3 681.1h0M395.9 897.3h0M401.9 751.7h0M409.9 731.9h0M411.1 711.7h0M411.4 689.8h0M414.5 907.8h0M429 684.3h0M429.8 708.9h0M431.3 895.3h0M441.5 909.6h0M445.8 674.7h0M447.7 638.3h0M451.9 887.6h0M453.8 657.3h0M459.1 597.8h0M467 636.6h0M468 615.9h0M472 891.6h0M482.1 555.7h0M482.6 602.1h0M484.6 878.8h0M491.6 626.6h0M497.9 574.9h0M502.2 611.7h0M508.7 899.4h0M509.7 560h0M511.5 339.3h0M512.8 879.5h0M514.7 468.9h0M515.9 585.1h0M520.8 535.2h0M522.2 515.3h0M524.7 613.3h0M532.7 883.7h0M533.3 485.5h0M534 568h0M540.1 603.2h0M547 525.6h0M547.8 867.6h0M550.9 339.3h0M551 575.8h0M556 543.9h0M558.8 611.3h0M562.7 885h0M563 561.4h0M566.2 593.6h0M573.2 859.6h0M577.4 550.8h0M578 579.7h0M580.5 530.5h0M580.8 339.5h0M582.5 880.1h0M587.4 499.5h0M588.4 604.4h0M602 616.1h0M603.5 863.5h0M604 565h0M604.3 540.3h0M609.7 512.8h0M611 583.6h0M612.2 846.5h0M612.7 478.6h0M615.9 339.2h0M621.7 527.2h0M621.8 606.3h0M624.6 553.7h0M633.7 339.2h0M637.5 841.2h0M639.9 531.1h0M640.1 603.1h0M642.1 863.7h0M644.1 581.5h0M646.9 550.4h0M656.9 847.1h0M658.5 487.3h0M660.2 606h0M660.8 339.1h0M664 533.9h0M665.8 570.5h0M673 517h0M673.1 468.9h0M673.3 593.5h0M676.6 554.9h0M678.7 339.4h0M684 825.2h0M685 533.1h0M692.1 483.4h0M693.6 564.1h0M693.8 586.2h0M694.2 513.9h0M694.7 809.8h0M696.4 339.3h0M697 840h0M698.1 546.3h0M701 452.4h0M704.8 496.8h0M708.5 822.8h0M709.7 475.3h0M711.1 570.2h0M713.2 805.4h0M716 510.5h0M716 339.4h0M717 840.4h0M718.3 586.2h0M724.7 780.8h0M726.7 533.6h0M733.5 567.1h0M734.1 494.6h0M737 804.2h0M740.5 339.4h0M742.5 783.1h0M743.9 479h0M747.7 533.5h0M750.2 755h0M750.4 560.5h0M759.1 505h0M760 339.3h0M763 484.7h0M769.3 459.3h0M771.3 549.8h0M773 783.8h0M773.3 752.8h0M773.7 729.8h0M778 496.7h0M778.7 339.3h0M783.7 769.1h0M786 528.5h0M787.3 438.8h0M791.1 462.2h0M791.2 545.7h0M793.5 507.2h0M795.2 713.5h0M803.7 530.7h0M803.7 480.7h0M806.5 671.9h0M806.6 693.3h0M810.8 338.9h0M816.9 708.4h0M817.1 460.6h0M818.3 502.9h0M824.4 671.2h0M825.7 531.6h0M828.7 339.5h0M836 657.1h0M837.3 497.6h0M837.9 517.5h0M841 637.7h0M843.3 478.9h0M848.7 589.9h0M852 556.3h0M852.5 610.2h0M856.8 521.4h0M857.5 339.2h0M858.6 631.3h0M860.5 664.2h0M861.4 573.9h0M869.7 542.2h0M873 612.1h0M873.1 587.9h0M874.4 675.2h0M881.4 518.8h0M883.8 339.4h0M884 566.6h0M888.8 534.6h0M889.8 602.3h0M894.1 649.4h0M894.6 494.1h0M895.9 583.7h0M900.9 621.3h0M901.3 549.2h0M903.9 567.4h0M908.3 519.2h0M911.7 339.1h0M915.2 500.2h0M924.1 618.6h0M924.9 548.4h0M927.3 529.4h0M931.7 512h0M932.8 565.3h0M934.7 339.6h0M939.6 477.3h0M954.5 339.2h0M957 482.8h0M973.7 491h0M984.2 339.6h0M1011 339.4h0M1048 339.1h0M1066.1 339.3h0M1091.7 339.1h0M1112 339.4h0M1147 339.3h0M1170.1 339.3h0M1190.3 339.4h0M1208.1 339.2h0M1237.2 339.1h0M1681.3 339.3h0"/>
<path d="M288.3 863.3h0M299.8 897.7h0M310.3 880h0M311.6 836.1h0M313.8 913.9h0M319.5 857.1h0M324.8 900.1h0M330.3 828.9h0M345.8 900.4h0M346.1 805.1h0M363.1 909.6h0M364.2 782.7h0M364.4 804.1h0M369.8 747.5h0M378.3 897.9h0M378.4 693.1h0M380.4 776.2h0M382.6 915.4h0M388.3 753.6h0M396.9 897.9h0M400 706.3h0M406.8 753.1h0M408.3 912.7h0M411.9 728.6h0M419.2 711.2h0M427.2 683.1h0M430.5 905.7h0M442.4 663.2h0M452.6 905h0M453.7 630h0M456.8 650.4h0M459.7 586.4h0M462.2 886h0M465.2 609.6h0M479.1 626.4h0M483.6 880.7h0M488.5 571.6h0M491.2 600.2h0M493.8 546.3h0M499 890.3h0M505 561.8h0M505.5 618.4h0M506.4 339.3h0M512.2 594.4h0M516.4 882h0M519 572.2h0M523.8 608.1h0M525.8 509.7h0M531.4 588.8h0M533.2 528.1h0M535.6 555.8h0M537 339.1h0M539 874.5h0M549.5 610.4h0M549.7 588.2h0M549.8 508.9h0M553.6 528.7h0M554.4 563h0M555.5 891.1h0M559.6 870.2h0M562.2 339h0M567.7 611.8h0M570.3 593h0M570.7 569.3h0M571 541.8h0M579.1 859.3h0M581 881.6h0M584.6 607.5h0M586.2 577.8h0M591.8 519.6h0M591.9 557h0M592 339.3h0M602.5 870.6h0M606.8 531.2h0M608.3 852.4h0M609.7 339.5h0M611.2 579.3h0M611.5 472.3h0M611.7 603.2h0M613 514.7h0M615 549.5h0M627.1 612.1h0M630.4 524.5h0M630.9 339.3h0M633.6 590.7h0M634.4 856.8h0M641.5 840.3h0M643.9 544.3h0M652.6 572.5h0M654.1 527.8h0M654.1 339.4h0M656.6 857.6h0M658 608.1h0M658.7 589.1h0M660.8 488.9h0M662.7 555.6h0M662.9 840.7h0M665.9 511.6h0M670.7 465.8h0M672.6 530.7h0M676.5 828.5h0M676.5 584.8h0M680.1 339.4h0M681 567.1h0M683.4 487.9h0M691.2 539.8h0M691.4 468.8h0M694.7 589.5h0M696.8 821.5h0M701.2 571.6h0M703.2 524.4h0M705.6 506.4h0M706.4 840h0M706.6 485.3h0M710.4 339.2h0M713.2 587.6h0M713.2 807.5h0M717.7 563.6h0M725.9 535.7h0M728.1 778.4h0M728.2 499.5h0M729.7 479.5h0M731.1 816.8h0M733.2 339.2h0M733.3 552.2h0M735.5 573.5h0M736.9 797.2h0M744 535.5h0M746.5 768.2h0M747.7 499.7h0M753.4 557.7h0M762.1 339.4h0M762.5 455.3h0M762.9 534.9h0M767.9 754.3h0M768.6 471.9h0M771.3 735.9h0M773.9 503.9h0M777.7 556.5h0M781.7 339.2h0M784.1 526.8h0M784.1 461.9h0M784.8 720.8h0M786.7 783.3h0M791.9 484.1h0M791.9 546.1h0M792.8 502.6h0M793.3 689.9h0M804.3 704.5h0M804.4 461.9h0M807.5 527.1h0M811.5 339.2h0M816 675.1h0M819.9 489.9h0M821.9 467h0M822.8 513.5h0M827.4 655.5h0M839.1 494.8h0M839.8 533.4h0M842.8 633.7h0M844.8 339.4h0M847.9 656.8h0M848 517.3h0M849.4 474.2h0M853.6 562.1h0M860.9 542.4h0M860.9 585.5h0M862.3 626.9h0M865.2 609.7h0M865.8 515h0M868.4 645.2h0M869 339.1h0M870.9 559h0M878.7 579.7h0M881.5 524.7h0M886.6 503.8h0M887 612.2h0M887.9 339.3h0M896.5 573.4h0M898.6 592.2h0M905.3 350.4h0M907.1 530.4h0M912.5 553.5h0M912.9 510.3h0M914.5 625.3h0M915.7 491h0M921.5 339.1h0M933.6 508.7h0M934.3 551.3h0M936.6 525.9h0M945.4 483h0M953.2 339.6h0M984.9 339.2h0M1003.6 339.2h0M1031.9 339.4h0M1054.9 339.3h0M1077.8 339.4h0M1097.9 339.4h0M1126.3 339.2h0M1162.1 339.1h0M1183.2 339.5h0M1202 339.4h0M1225.4 339.5h0M1247.6 339h0M1681.7 339.3h0"/>
<path d="M293.6 853.6h0M308.3 870.8h0M308.4 918.4h0M309.6 900.4h0M311.2 843.9h0M328.4 849h0M330 824.9h0M330.7 890.6h0M335 910.9h0M352.1 804.8h0M360.1 894.9h0M366.2 911.7h0M370.5 799.5h0M374.3 774.6h0M377.2 755.7h0M377.6 896.7h0M384.6 913.5h0M388.6 697.7h0M393.6 766.7h0M394.6 727.9h0M404.5 911.7h0M408.1 742.1h0M409 703.4h0M413.9 722.4h0M425.1 896.3h0M426.7 685.1h0M428.8 710.7h0M432.4 912.5h0M448.7 654h0M448.9 674.1h0M455.1 907.2h0M455.3 617.6h0M460.4 884.5h0M462.9 640.3h0M473.4 607.9h0M473.6 587.6h0M476.9 627.4h0M480.1 566.5h0M480.8 891.2h0M496.4 598.4h0M496.6 882.6h0M497.5 616.8h0M499.5 560.7h0M506.2 900.9h0M510.9 575.2h0M513.5 339.3h0M514.5 885.3h0M515.6 620.2h0M518.6 601.3h0M519.5 525.4h0M525.3 544.2h0M534.3 339.3h0M534.8 571h0M538.5 599h0M539.6 878.7h0M540.6 510.3h0M542.4 555.3h0M546.1 533.6h0M549.9 613.6h0M555.9 339.3h0M557.6 878.7h0M558.5 578.7h0M563.8 560.1h0M564.8 862.2h0M570.3 532.6h0M576.7 608.9h0M577.2 589.3h0M579.5 571.6h0M581.8 552.9h0M583.5 878.9h0M583.7 339.4h0M592.6 863.3h0M593.1 519.1h0M593.6 601.1h0M607.4 548.9h0M610.8 514.3h0M611.7 339.1h0M612.1 865.4h0M613.6 576.3h0M621.2 602.9h0M627.5 855.5h0M630.4 535.6h0M633.7 584.9h0M639.9 604.1h0M644 560.7h0M644.4 865.6h0M646.2 339.4h0M648.3 847.7h0M652.7 588.7h0M655.4 534.9h0M663.9 559.8h0M666.1 515.4h0M669.7 339.3h0M670.9 475.7h0M671.2 493.3h0M671.3 844.6h0M673.4 532h0M676.3 577.9h0M679.3 456.9h0M679.8 598.5h0M684.7 504.9h0M688.2 473h0M691.1 818h0M695.5 574.1h0M699.2 339.6h0M700.1 541.3h0M701.5 515.5h0M703.3 485.5h0M707.5 589.8h0M707.6 829h0M708.6 558h0M708.9 809.7h0M717.4 507.3h0M717.9 339.3h0M718.7 535.7h0M727 566.4h0M728.8 785.1h0M731.8 804.5h0M735.1 508.8h0M739.1 490.1h0M742.7 532.7h0M743.2 550.8h0M744.7 572.4h0M748.5 772.1h0M749.1 339.3h0M752.9 753.7h0M758.4 520.9h0M761 502.6h0M762.4 558.7h0M765.5 738h0M766.7 539.2h0M776.2 756.1h0M776.8 478.9h0M778 339.3h0M780.1 513.6h0M786.5 455h0M788.8 729.6h0M790.8 711.7h0M791.2 692.7h0M792.9 497.8h0M797.4 538.9h0M806.1 338.9h0M806.6 483.7h0M808.8 697.8h0M809.3 677h0M813 521.5h0M819.7 660.3h0M826.3 684h0M827.8 339.5h0M829.7 493h0M831.9 523h0M840.9 644.5h0M843.1 504.7h0M846.5 534.1h0M847.7 339.2h0M849.1 664.1h0M849.9 590.1h0M850.7 473.3h0M852.7 621.1h0M858.5 519.3h0M862.9 549.9h0M863.2 571.9h0M870.8 616.2h0M871.6 348.4h0M876.4 514.4h0M880.1 588.7h0M882 537.7h0M886.7 569.4h0M887.1 339.3h0M897.1 584.2h0M897.2 549.8h0M897.5 520.8h0M901.2 605.3h0M903.3 623.7h0M904.5 490.5h0M905 339.2h0M910.6 507.4h0M922.5 339.5h0M924.1 542.1h0M932.4 518.7h0M932.4 491.3h0M940.4 339.6h0M941.8 563.8h0M963.6 339.4h0M996.7 339.6h0M1020 339.5h0M1037.4 339.7h0M1057.7 339.2h0M1078.1 339.3h0M1100.8 339.3h0M1131.2 339.4h0M1157.9 339.1h0M1178.1 339.6h0M1200.6 339.2h0M1239.4 339.2h0M1680.7 339.8h0"/>
<path d="M301.4 887.9h0M305.7 868.4h0M310.2 849.8h0M318.8 911.4h0M319.9 885.6h0M326.7 843.8h0M336.4 894.9h0M337.1 811h0M338.9 829.7h0M354 912.4h0M354.4 819.3h0M360.8 752.7h0M361.4 894.8h0M365.4 805.1h0M373.6 907.5h0M376.6 780.3h0M379.6 762.9h0M380.6 742.8h0M385.8 700.1h0M392.7 919.1h0M399.1 766h0M403.2 693.1h0M404.2 904.5h0M406.2 722h0M407.5 745.2h0M411.2 921h0M424.5 904.4h0M426.8 713.9h0M429.1 675.5h0M430.2 693.4h0M443.6 919.3h0M446.9 663.4h0M451.9 899.7h0M452.8 641.2h0M456.8 619.5h0M464.6 595.5h0M467.9 889.8h0M473.9 631.3h0M483.6 615.9h0M484.7 564.7h0M485.8 893.7h0M489.1 598.9h0M497.5 878.1h0M502.6 571.5h0M507.4 589.7h0M508.4 546.7h0M514.6 618.5h0M520.7 528.9h0M520.9 891.4h0M525.8 550.1h0M528.1 582.2h0M528.9 870.8h0M531.4 599.4h0M539.7 888h0M540 568h0M541.1 513.6h0M548.1 544.1h0M550.6 587.3h0M551.5 612.7h0M553.6 871.9h0M555.1 339.6h0M558.4 529.6h0M560.9 561.5h0M568.3 882.1h0M569.6 605.8h0M574.1 548.2h0M575 578h0M575.5 339.3h0M580.5 527.5h0M582.4 864h0M587 593.1h0M590.9 563.8h0M591.7 544.6h0M597.8 607h0M599.8 874.1h0M600.1 578.8h0M602.6 339.2h0M610.7 848.4h0M611.9 522.2h0M616.4 865.6h0M617.4 613.3h0M618 547.8h0M625.8 511.3h0M627.4 339.1h0M628 578.9h0M629.7 597.7h0M633.5 850.1h0M644.8 543.9h0M648 602.5h0M648 339.3h0M650.1 863.1h0M655 566.4h0M655.1 494h0M656.8 845.2h0M657.3 587.2h0M663.1 524h0M667.9 339.1h0M673.2 838.8h0M673.6 599.4h0M676.1 575.5h0M676.6 539h0M681.5 507.4h0M683.8 824.3h0M684.5 456.4h0M685.6 347.2h0M697.8 577.8h0M698.1 814.1h0M699 481.3h0M700.8 531.8h0M701 558h0M702.4 339.3h0M708.8 593.5h0M711.4 826.4h0M714.8 509.5h0M717.9 792.4h0M718.5 560.2h0M720.5 339.5h0M721.5 529h0M732 805.3h0M732.4 493.8h0M733.9 572.6h0M735.2 542.2h0M737.8 781.1h0M738 339.3h0M746.2 763.6h0M749.2 505.6h0M753.8 565.9h0M754 487.7h0M754.7 532.2h0M762.3 339.3h0M762.8 549.2h0M764.6 758.2h0M769.6 728.5h0M775.3 465.1h0M778.4 519.6h0M779.1 745.5h0M781.1 543.2h0M782.9 339.4h0M785.1 500.6h0M786.5 723.7h0M789.8 446.7h0M794.8 469.7h0M795.2 705.6h0M797.7 537.3h0M801.7 491.8h0M803.1 519.9h0M809.9 689.1h0M813.4 339.4h0M822.5 516.1h0M824.4 674h0M831 486.3h0M834.1 656h0M834.6 634.7h0M834.6 533.6h0M844.8 339.2h0M845.7 515.7h0M850 643h0M851.8 557.8h0M853.9 493.5h0M855.8 623.4h0M858 602.1h0M858.1 579.8h0M859.9 540.6h0M861.2 661.9h0M862 351.4h0M864.8 520.6h0M874.7 339.4h0M876.4 609.6h0M879.3 562.8h0M880.7 541.5h0M890.6 580.4h0M891.8 523.9h0M896.6 339.4h0M897.6 601.8h0M918.3 339.2h0M919.4 513.9h0M923.2 550.2h0M940.1 544.2h0M948.1 339.4h0M970 339.3h0M997.8 339.1h0M1032.6 339.1h0M1066.3 339.3h0M1084 339.1h0M1108.2 339.1h0M1126.1 339.4h0M1153 339.3h0M1170.6 339.4h0M1207.6 339.4h0M1231.8 339.2h0M1249.5 339.2h0M1681.3 339.6h0"/>
<path d="M303.7 864.2h0M308.9 883.5h0M309.8 907h0M312.9 845.6h0M324.9 859.9h0M326.7 889.1h0M330 838.7h0M332.7 906.1h0M344.2 890.7h0M349.4 811.1h0M358.1 907.1h0M363.9 789.5h0M364.8 772h0M369.5 755.2h0M371.1 919h0M375.1 901.9h0M383.1 783.2h0M392.4 757.2h0M392.4 915.7h0M396.7 696.8h0M402.1 895.5h0M403.1 727.7h0M411.3 743.7h0M413.2 909.4h0M417.3 706.1h0M422.4 724.5h0M431.1 690.8h0M439.2 907.6h0M448.7 664.7h0M452.8 630.2h0M460.9 894.7h0M462 647.6h0M471.4 630.5h0M473.3 880.7h0M489.2 594.6h0M490.5 891.4h0M495.4 614.6h0M499.6 569.5h0M505.7 588.4h0M506.4 900.1h0M507.4 553.9h0M511 882.9h0M516 603.4h0M518.9 569.3h0M522.1 620.6h0M527.7 891.2h0M533.5 556.2h0M537.9 605.1h0M540.5 871.3h0M544.1 574.2h0M544.8 540h0M554.4 339.3h0M555.9 880.8h0M557.5 598.7h0M562.9 579.5h0M564.6 539.6h0M569.6 612.5h0M570.5 868.7h0M573.7 564.8h0M583.4 598.6h0M584.1 856.5h0M586.1 339.3h0M590.4 875.2h0M592.9 553.9h0M594.8 614.6h0M600.6 577.9h0M604.8 536.8h0M606.7 858.2h0M607.9 878h0M609.1 516.4h0M610.2 339.3h0M615.5 598.9h0M620.6 562.2h0M624.9 861.1h0M626.7 613.8h0M629 521h0M631.5 843.1h0M633.3 597h0M640.6 535.6h0M642.4 563.2h0M644.9 339.4h0M648.8 850.9h0M653.9 592.6h0M657.1 491.1h0M661.3 511.4h0M663.4 339.2h0M666.9 857h0M667.3 834.6h0M669.8 544.8h0M675 589.7h0M678 570.5h0M682.1 510.6h0M682.3 458.6h0M683.1 844.3h0M684.5 535.5h0M685.3 478.3h0M696.2 818.6h0M699.1 339.3h0M701.8 588.2h0M703 538.7h0M704 567.4h0M711.7 497.2h0M713.3 809.2h0M722.4 792.7h0M722.5 586.5h0M724.4 544h0M731.1 523.8h0M732.7 339.6h0M735.5 562.4h0M737.6 778h0M741.3 499.3h0M751.8 339.3h0M756.7 765.5h0M759.6 519.9h0M760.7 475.2h0M763.5 542.3h0M766.6 561.6h0M770.3 735.8h0M775.4 345.5h0M778.2 495.5h0M781.6 535.1h0M786.8 513.4h0M787.3 715.8h0M791.8 474.6h0M793.5 697.9h0M794.9 455.4h0M796.4 498.7h0M800.4 338.8h0M801 533.6h0M809.2 473h0M809.3 675.9h0M812 693.2h0M813.7 490h0M819.9 536.1h0M823.8 514.7h0M825.2 339.2h0M828.3 644.8h0M831.8 492.9h0M832.5 663.8h0M843.7 339.6h0M847 638.8h0M847.6 523.7h0M851.8 540.9h0M853.7 594.3h0M854.3 561.4h0M855.1 618.9h0M862.2 578.9h0M870.1 629.6h0M873.6 507.3h0M875.1 612.7h0M877.6 530.8h0M878.2 550.4h0M879.6 578.2h0M879.6 339.1h0M891.9 597.5h0M899.1 574.2h0M899.9 339.5h0M910.6 520.1h0M914.9 552.6h0M919.3 339.3h0M923.9 502.1h0M930.8 518.9h0M935.3 545.6h0M942.3 339.4h0M963.9 339.1h0M998.5 339.2h0M1032 339.3h0M1057.5 339.2h0M1077.7 339.3h0M1100 338.8h0M1122.1 339.1h0M1145.5 339.1h0M1168.8 339.2h0M1187.4 339.3h0M1206.5 339.3h0M1224.6 339.3h0M1250.4 339.2h0"/>
<path d="M300.2 867.7h0M305.5 893.4h0M320.4 876.4h0M324.5 844.7h0M328 905.2h0M330.6 825.1h0M343.4 805.3h0M352.6 896.7h0M357.6 919.2h0M360.7 812.6h0M372.7 757.3h0M373.9 792.3h0M375 901.4h0M379.6 774.6h0M389.8 910.6h0M399.4 765.8h0M402 741.4h0M408 692.3h0M412.6 905.9h0M412.8 727.4h0M424 709.5h0M430.6 683.2h0M432.2 905.6h0M449 657.3h0M452.2 914.8h0M455.3 638.1h0M461.2 883.5h0M464.6 900.7h0M473.1 630h0M483.7 605.3h0M486 885.5h0M498.3 565.3h0M500.1 586.1h0M501.3 545.3h0M502.9 890.8h0M503.2 617.5h0M521.1 620.2h0M523.6 557.9h0M527.3 602.3h0M530.3 880.7h0M530.8 583.5h0M541.2 619.6h0M543.5 555.1h0M543.6 526.9h0M549.8 870.8h0M551.1 585.2h0M552.5 339.2h0M563.4 525.9h0M563.8 617.6h0M567.1 571h0M568.7 592.5h0M569.4 874.4h0M572.3 548.7h0M574.6 339.3h0M586.4 608.7h0M591.7 883.9h0M592.6 853.4h0M597.6 588.8h0M607 542.4h0M608 867.3h0M608.6 523h0M609.2 339.4h0M610.4 561.6h0M615.9 848.3h0M618.3 597h0M621.7 507.7h0M627.3 865.9h0M627.7 525.2h0M630.1 574.4h0M631.7 339.3h0M636.8 590.5h0M639.9 850.4h0M642 609h0M643.3 541.4h0M646.4 563.3h0M649.7 339h0M657.4 853.2h0M661.7 553.5h0M663.8 605.4h0M665 522.8h0M668.8 584.2h0M670.7 339.1h0M671.1 494.9h0M672.1 837h0M676.2 567.8h0M677.8 538.6h0M684.6 593.7h0M685.4 469.9h0M686.2 817.5h0M695.8 339.6h0M699.9 484.1h0M702 582.2h0M702.5 526h0M703 830.6h0M705.1 560.5h0M709 813h0M709.3 508h0M712.9 540.2h0M720.9 339.2h0M722.4 584.6h0M723.2 802.9h0M726.5 496.8h0M727.6 780.8h0M730.8 537.4h0M732.5 564.5h0M739.1 339.1h0M740.7 523h0M743 502.4h0M745.1 780.9h0M749 570.9h0M749.8 752.5h0M754.7 539.1h0M759.1 339.5h0M762.4 559.8h0M763 740.2h0M765 763h0M774.8 486.9h0M776.8 339.4h0M778.3 455.9h0M778.4 546.2h0M780.8 525.3h0M790.3 719.5h0M790.7 473.8h0M795.9 539.3h0M797.8 493.5h0M798.1 339.4h0M798.4 698.7h0M800.4 511.9h0M808.9 681.4h0M813.1 534h0M822.9 504.8h0M826.1 338.8h0M828.8 667.9h0M832.2 520.1h0M839.1 644.6h0M843.7 625.9h0M846.9 509.2h0M847 661.9h0M850 339.3h0M850.2 556.1h0M858.4 523.7h0M859.7 588.7h0M863.5 615.7h0M870.3 572.4h0M871.2 543h0M881 618.8h0M883.2 591.7h0M885.4 339.1h0M885.6 527.1h0M887.8 561.2h0M900 586.5h0M907.2 339.1h0M923.4 518.6h0M926 544.2h0M929.9 339.4h0M949 339.2h0M986.5 339.4h0M1009.5 339.3h0M1041.5 339.1h0M1063.9 339.4h0M1086.5 339.1h0M1111.2 339.3h0M1129.1 339.2h0M1150.2 339.3h0M1170.8 339.3h0M1202.6 339.1h0M1234.2 339.1h0"/>
<path d="M312.2 877.2h0M312.4 898.2h0M316.3 842.5h0M324.1 917.4h0M335 831.4h0M335.9 903.5h0M341.1 813.1h0M359.8 810.2h0M360.1 895.8h0M367.1 754.7h0M367.9 915.7h0M377.6 782.5h0M381.4 902.7h0M389.6 765.7h0M392.8 742.9h0M405.9 728h0M408.3 752.7h0M409 895.2h0M409.7 919.8h0M416.8 711.9h0M426.9 902.6h0M429.9 695h0M435.5 672.7h0M444.8 906.3h0M446 649.9h0M453.7 667.2h0M455.1 626.6h0M460.7 886.6h0M464.4 649h0M465.4 905.2h0M473 627.3h0M479.7 890.9h0M480.6 611.3h0M494.6 626.1h0M495.4 587.8h0M497.8 549.2h0M498.7 881.5h0M508.1 569.4h0M511.5 611.6h0M517.8 895.4h0M523 597.8h0M527.2 542.7h0M533.2 566.4h0M533.2 612.8h0M538.1 874.5h0M552.8 567.6h0M555 339.2h0M561.4 869.1h0M564.7 613.4h0M568.2 593.8h0M572.9 883.6h0M574.2 535.9h0M578.5 865.3h0M580.8 558h0M581.3 339.3h0M583.3 615.1h0M593 577.3h0M594.5 878.1h0M596.5 515h0M597 599.1h0M602.3 852.7h0M604.1 544.5h0M604.7 339.3h0M610.3 526.9h0M611.7 562.7h0M614.5 866.1h0M615.8 613.2h0M619.8 510h0M622.2 583.8h0M624.6 339.2h0M630.6 545.6h0M631.5 601.1h0M632 851.6h0M647 582.6h0M650.1 839.4h0M650.6 518.2h0M651.5 562.8h0M653.2 858h0M657 542.4h0M657.6 601.1h0M659.2 339.2h0M668.9 847.1h0M669.5 580.6h0M670.5 554.7h0M674.4 513h0M675.8 599.9h0M679.9 534.1h0M684.2 834.7h0M684.7 471.1h0M687.8 339.3h0M690.5 580.4h0M690.7 562.8h0M693.7 521.3h0M698.7 485.1h0M700.5 537.6h0M702.3 819.4h0M705.8 339.5h0M708 560.7h0M710.3 501.8h0M710.3 585.6h0M714.2 803.5h0M719.3 537.1h0M725.4 569h0M728.9 488.8h0M729.2 339.2h0M733.4 522.6h0M734 778.4h0M740.2 794.7h0M740.4 506.5h0M746.5 542.9h0M747.4 572.1h0M748.5 767.9h0M749.2 339.2h0M759.3 530.6h0M760.1 480h0M763.4 756.2h0M765.4 554.4h0M772.1 735.2h0M773.6 492.2h0M776.1 339.1h0M776.2 515.1h0M782.6 719.4h0M788 466.5h0M792.4 543.4h0M793.8 339h0M795.7 523.8h0M799 705.1h0M799.3 686.2h0M801.5 498.9h0M811.3 538.1h0M818.4 656.9h0M819.5 489.8h0M821 339.4h0M823.2 523.1h0M824.1 673.4h0M831.6 502.8h0M832.7 636.3h0M836.9 653.3h0M839.3 339.4h0M846.1 527.6h0M851.5 642.5h0M855.1 561.3h0M857.9 590.5h0M860.7 339.4h0M862.8 516.6h0M864.4 621.8h0M872.2 531.6h0M873.3 552h0M873.8 580.4h0M887.5 612.4h0M888.8 339.3h0M897.6 530.5h0M898.6 568.4h0M899.4 597.5h0M907.9 343.6h0M909.2 510.9h0M933.5 339.4h0M951.7 339.1h0M974.5 339.5h0M993 339.2h0M1013.4 339.2h0M1040.4 339.3h0M1073.6 339.3h0M1095.2 339.5h0M1127.5 339.1h0M1159.5 339.4h0M1183.4 339.4h0M1217.1 339.3h0M1248.9 339.5h0"/>
<path d="M312.9 884.7h0M313.5 863.3h0M314.9 913h0M317 843.9h0M322.6 827h0M326.3 899.7h0M342.3 808.9h0M344 829.7h0M352.2 894.1h0M359.4 804.2h0M374.2 899.6h0M376.9 790.6h0M389 771.4h0M389.7 910.6h0M390.3 750.2h0M398.1 729.7h0M412.3 717.1h0M412.6 740.8h0M416.6 699h0M419.3 906.8h0M434.2 680.4h0M438.7 896.7h0M441.9 915.6h0M446.9 667.3h0M455.6 651h0M456.1 904.8h0M469.8 886.9h0M470.4 635.1h0M480 619.5h0M485 896.7h0M487.8 878h0M495.3 597.9h0M499.4 569.4h0M500.6 617.7h0M502.4 891.8h0M514.5 585.6h0M519.3 881.1h0M527.7 607.1h0M532.8 588.9h0M540.7 619h0M540.7 339h0M541.5 564h0M551 863.7h0M553.7 883.7h0M557.6 610.4h0M560.4 554.2h0M561.7 586h0M568 873.4h0M574.8 538.6h0M579.2 339.2h0M583.8 569.5h0M587.4 600.6h0M595.4 584.7h0M595.8 862.3h0M596.7 339.4h0M608.6 605.4h0M610.4 553.8h0M613.6 857.6h0M621.9 537.5h0M624.1 339.2h0M625 611.9h0M625.9 571h0M627.2 593.9h0M628.1 844.7h0M631.7 865.5h0M642.6 582.3h0M646.5 339.3h0M647.9 851.3h0M655.6 593.9h0M657 546.3h0M657.5 518.6h0M667.4 339.5h0M672.2 507.7h0M673 831h0M673.3 849.3h0M674.7 562.9h0M675.8 591.4h0M678.9 529.7h0M684.7 483.3h0M686.2 576.1h0M686.8 547.5h0M688.8 339.3h0M703.6 560.9h0M703.6 591.1h0M705.8 819.4h0M708 501.7h0M708.6 339h0M712.6 534.3h0M714.3 576.1h0M724.4 816h0M724.7 798.6h0M726.3 339.4h0M727.3 490.9h0M729.6 565.9h0M735.7 509.2h0M739.3 771.1h0M741.2 535.6h0M745.6 489.3h0M747.3 339.2h0M754.1 567.9h0M755.6 509.3h0M759.7 539.6h0M761.1 749.5h0M765.1 339.2h0M774.8 734.6h0M776.7 493h0M781 519h0M784.8 537.9h0M790.3 339.4h0M791.5 728.7h0M794.1 709.9h0M794.4 495.1h0M803.3 530.2h0M805.7 508.6h0M807.6 693.7h0M808 339.3h0M815.9 674.1h0M824.5 530.6h0M825.9 339.4h0M827.9 507.6h0M831.5 652.7h0M833.8 670h0M834.5 635h0M849.2 645.1h0M849.5 514.6h0M850 593.1h0M851.7 617.9h0M852.1 555.7h0M853 339.4h0M860.2 533.2h0M864.6 570.6h0M872.4 339.3h0M873.1 614.7h0M878.7 536.3h0M878.9 515.5h0M881.9 579.6h0M884.5 558.4h0M890.5 615.1h0M891.8 339.3h0M907.2 582.3h0M910.7 339h0M937.9 339.2h0M960 339.5h0M983.2 339.3h0M1001.1 339.3h0M1020 339.2h0M1043.7 339.5h0M1065.9 339.4h0M1089.8 339.3h0M1107.2 339.3h0M1136.5 339.3h0M1155.9 339.1h0M1182.4 339.4h0M1211.4 339.3h0M1235.4 339.3h0"/>
<path d="M297.8 889.3h0M317.8 881.7h0M318 855.5h0M318.3 911.7h0M322 834.8h0M332.5 896.8h0M336.8 811.6h0M352 906.6h0M354.6 814.9h0M367.9 898.2h0M368.6 800.9h0M376.6 777.6h0M382.9 754.5h0M383.3 910.3h0M399.7 734.4h0M400.4 762.7h0M409.8 917.1h0M411.5 896.9h0M412 716.6h0M428 906.7h0M432.2 695.6h0M435.3 672h0M442.5 896.2h0M455.2 652.7h0M466.9 637.5h0M467.1 887.8h0M476.1 620.2h0M486.8 600.1h0M487.3 891.6h0M496.2 876.3h0M499.5 615.9h0M500.2 557h0M508.2 575.4h0M508.6 890.6h0M511.7 603h0M525.7 877.5h0M528.1 594.4h0M529.6 612.4h0M538.8 558.4h0M540.7 887.1h0M543.6 350h0M547.8 612.6h0M549.8 871.5h0M558 585.2h0M562.2 559.4h0M562.7 603.1h0M563.6 339.1h0M571.5 868h0M573.9 543.4h0M583.3 881.4h0M583.7 339.5h0M583.9 599.9h0M586.2 556.6h0M591.4 615.8h0M601.8 579.6h0M605 862.3h0M605.1 339.1h0M606.8 598.4h0M609.9 556h0M615.2 847h0M617.7 613.1h0M618.3 535.1h0M622.6 339.3h0M626 595.2h0M632.8 855.7h0M636.4 568.2h0M644.9 339.6h0M645.4 597.4h0M648.8 844.5h0M653.6 550.6h0M654.9 572.3h0M663 513.4h0M663.7 601.4h0M666.6 339.4h0M670.7 581.1h0M671.1 532.3h0M677.5 838.4h0M684.1 339.5h0M684.7 490.2h0M688.1 574.2h0M693.9 557.1h0M696.8 815.5h0M708.7 578.4h0M713.3 339.3h0M714.4 798.6h0M717.1 547.2h0M720.1 505.3h0M728.1 576.1h0M738.5 560.4h0M741 496.3h0M743.9 785.5h0M745.3 522.8h0M747.3 339.3h0M749.2 765.4h0M753.6 539h0M753.9 569.5h0M760.3 483.1h0M763.4 746.6h0M766.9 339.3h0M770.5 512.7h0M773.5 539.3h0M785.3 721.4h0M786.3 490.2h0M788.4 339.5h0M789.8 546.7h0M790 526.5h0M791.5 508.2h0M797.8 702h0M809.1 339.3h0M811.4 689.1h0M817.9 503.5h0M818.3 672.1h0M826 524.9h0M826.7 339.2h0M833.7 657.6h0M836.2 501.6h0M837.7 638.1h0M848.1 586.8h0M848.4 339.4h0M849.4 566h0M851.6 520.2h0M852.5 653.3h0M853.7 545.9h0M854.2 631.8h0M859 612.8h0M867.8 578.4h0M869.9 557.7h0M870.5 339.4h0M876.8 527h0M882.5 589.6h0M883.8 612.4h0M896.3 578.3h0M897.6 339.4h0M921.4 339.4h0M949 339.2h0M976.8 339.4h0M995 339.4h0M1013.9 339.2h0M1050.6 339.3h0M1078.3 339.3h0M1098 339.1h0M1118.4 339.3h0M1141.5 339.2h0M1160.3 339.2h0M1187.8 339.2h0M1205.3 339.3h0M1239.4 339.3h0"/>
<path d="M307.3 875.4h0M308.2 892.8h0M318 836.5h0M321.7 854.6h0M324 884.8h0M326.1 911.3h0M333.3 825.6h0M340.7 890.6h0M351 809.4h0M364.3 898.1h0M373.5 788.5h0M379.8 906.6h0M388.5 777.7h0M395.6 755.8h0M401.4 903.9h0M403.8 720.8h0M405.5 739.7h0M416.4 708.3h0M419.7 905.1h0M419.9 727.8h0M430.9 685.6h0M442.9 905h0M445.5 666.3h0M447.2 642.7h0M464.4 648.2h0M465.8 890.2h0M470.2 630.1h0M482.2 588.5h0M487.1 610.8h0M488.4 883.3h0M498 554.9h0M502.7 627h0M505.5 593h0M511.5 881h0M518 607.7h0M524.9 581.2h0M525.1 562.6h0M538.3 882.3h0M540.1 602h0M542.1 619.6h0M550.9 564h0M553.6 866.2h0M560.6 882.4h0M563 608.9h0M564.6 577.9h0M571 866.2h0M575.6 559.4h0M578.3 339.2h0M585.5 616.2h0M587.5 584.7h0M590.5 864.8h0M597.3 600.4h0M601 563h0M605.2 339.2h0M612.1 532.8h0M612.5 873.2h0M616.7 550.2h0M618.2 852.3h0M618.6 598h0M634.6 586.8h0M635.7 604.7h0M638.5 339.2h0M640.9 861.2h0M646.2 842h0M653.4 549.4h0M659.6 339.7h0M660.2 857.3h0M660.6 589.7h0M668.9 536h0M671.3 568.2h0M673 842.8h0M676.4 502.2h0M679.7 598.2h0M685.9 484.1h0M687 529.3h0M687.2 578h0M691.9 819h0M695.8 339.3h0M700 557.5h0M703.2 591.4h0M712.7 811h0M716.3 793.8h0M716.8 339.3h0M721.2 544.4h0M725.7 576.2h0M728.8 513.2h0M733.8 792.1h0M742.3 770.6h0M743.8 560.5h0M749.9 500.5h0M750.5 339.3h0M750.8 542.3h0M751.6 751.6h0M757.6 523.5h0M764.2 487.4h0M767.2 549.6h0M769.5 339.1h0M775.4 744.1h0M776.8 722.9h0M786.5 700.4h0M787.8 506h0M793.5 532h0M794.6 716.2h0M798.1 339.1h0M803.8 676.3h0M804.1 695.9h0M809.8 516.9h0M821.6 339.5h0M824.7 503h0M828.9 665.9h0M829.9 521.3h0M834.1 633.9h0M848.4 650.5h0M848.9 546.5h0M852.5 527.1h0M852.6 570.1h0M854.9 339.3h0M855.8 609.9h0M861.6 627.4h0M862.5 584.8h0M866.7 557h0M876.2 601.7h0M878.5 570.6h0M882.6 539.9h0M885.3 339.3h0M905.4 339.2h0M935.5 339.2h0M955.8 339.8h0M984.9 339h0M1010.4 339.4h0M1036.3 339.5h0M1063.9 339.4h0M1085.7 351.4h0M1102.2 339.2h0M1146.1 339.6h0M1165.6 339.5h0M1194 339.5h0M1213.2 339.1h0M1233.8 339.4h0"/>
<path d="M308.9 894.6h0M319.4 868.7h0M320 909.8h0M324.6 846.4h0M326.5 890.7h0M333.9 827.8h0M350 816.9h0M350.1 898.2h0M365.3 798.7h0M368.2 904h0M380.5 784.5h0M390.3 904.2h0M397.2 765.6h0M405.1 731h0M407 748.9h0M408.7 913.3h0M410.8 706.3h0M411 895.2h0M419.9 687.1h0M421.7 724.5h0M430.3 906h0M431.6 702.3h0M438.6 682.1h0M439.9 660.3h0M452.6 641.9h0M457.1 890.1h0M458.4 658.9h0M466.9 631.5h0M477 888.8h0M482.1 611.6h0M495.1 893.9h0M496 875.4h0M497.5 624.7h0M500.2 602.7h0M515.1 620h0M518.2 601.6h0M519 883.2h0M537.6 888.7h0M541.9 602.7h0M548.7 574.4h0M549.6 554.8h0M550.9 865.8h0M565.6 613.6h0M570 879.6h0M570 860.9h0M572.2 339.3h0M578.3 570.6h0M580.1 592.9h0M586.5 613.2h0M588.7 859.8h0M597.9 590.6h0M603.5 339.3h0M607.8 859.1h0M609.6 573.2h0M610.3 527.1h0M612.7 554.7h0M619.1 605.8h0M620.6 845.7h0M621.8 586.1h0M626.8 868.4h0M639.1 339.2h0M639.3 585h0M640.5 604.8h0M648.3 849.7h0M656.2 348.6h0M658.7 588.7h0M661.8 529.5h0M667.5 847.8h0M672.1 544.7h0M674.6 570.9h0M675.7 339.3h0M679.4 834.1h0M680.2 528.9h0M680.2 593.7h0M691 563.2h0M699.5 819.3h0M702.8 339.3h0M706.6 578.9h0M713.3 803.2h0M716.6 530.6h0M728.9 553.5h0M729.8 508.5h0M730.1 778.8h0M733.9 339.1h0M735.9 572.5h0M743.6 489.7h0M745.5 764.9h0M748.7 512.5h0M752.7 549.4h0M754.2 339.3h0M757.5 529.4h0M763.2 745.3h0M774.5 339.3h0M777.9 553.8h0M780.9 708.7h0M781.1 532.5h0M786.8 728.1h0M787.8 499.6h0M794.2 339.5h0M799.5 703.1h0M800.4 533.1h0M809 681.8h0M816.7 339.3h0M817.2 527.4h0M825.1 673.2h0M831.2 506.4h0M836.1 634.9h0M836.2 529.1h0M836.7 654.5h0M846 339.4h0M852.7 618h0M854.8 643.8h0M855.5 567.2h0M857.7 514h0M860.4 546.8h0M861.5 587.6h0M870.5 527.7h0M870.5 339.2h0M874.5 621.6h0M877.6 578.2h0M884.1 599.5h0M898.5 339.3h0M919.1 339.2h0M939.7 339.2h0M963.4 339.8h0M998 339.1h0M1025.1 339.3h0M1047 339h0M1072.7 339.6h0M1107.3 339.1h0M1143.5 339h0M1165.5 339.6h0M1195.2 339.1h0M1217.3 339.4h0M1247.3 339.2h0"/>
<path d="M308.4 892.5h0M312.6 848.4h0M314.3 909.7h0M316.1 871h0M328.1 892.5h0M330.5 833.6h0M334.4 813.3h0M342.5 908h0M353.5 815.6h0M363.8 899.4h0M363.9 797.2h0M372.3 771.5h0M380.6 904.8h0M390.9 758.7h0M392 777.9h0M396 741.8h0M408.8 722.4h0M413.8 739.4h0M415.7 695.5h0M416 908.5h0M425.6 680.4h0M427.8 713h0M442.6 903.3h0M442.9 675.2h0M444.3 654h0M455.9 636.2h0M462.6 654.9h0M467.8 893.5h0M474.6 623.6h0M488.6 610h0M489.2 889.9h0M504.1 878.7h0M508.3 895.8h0M511.9 608.1h0M522.9 882.6h0M528.2 615.8h0M530.4 594.8h0M546.8 866.1h0M549.2 574.5h0M555.7 610.7h0M564.7 859.2h0M569.4 595.8h0M569.7 560.6h0M577.9 339.2h0M578.2 881.8h0M584.6 616.8h0M585.8 864.3h0M588.9 584.9h0M599 343.1h0M604 857.5h0M606.7 577h0M611.3 558h0M611.9 601h0M613.2 540.5h0M613.6 872.1h0M619.3 849.1h0M622.8 339.3h0M630.6 597.2h0M634 866h0M639.4 846.1h0M646.4 576.2h0M647.5 339.1h0M649.6 595.6h0M657.8 548.1h0M662.5 843.1h0M667 596.8h0M667.2 573.6h0M668 530.7h0M669.9 339.1h0M675.9 828.7h0M684 538.3h0M684.7 581.3h0M692 339.3h0M693.1 811.4h0M704 555.1h0M709.5 584.2h0M710.5 804.2h0M711.3 339.3h0M716.7 567.6h0M720.1 544.6h0M731.7 508.9h0M732.3 339.2h0M735 565.1h0M735 786.8h0M741.2 762.5h0M748.1 527.4h0M752 561.6h0M752.8 339.2h0M760.9 742.5h0M765.1 542.8h0M775.8 339.3h0M781.2 524h0M783.4 723.9h0M793.7 509.6h0M794.6 690.8h0M795.2 542.3h0M796 710.8h0M804.8 339.6h0M812.3 692.7h0M812.7 668.5h0M815.3 510.6h0M825 339.2h0M830.2 536.9h0M833.8 499.7h0M835 643.2h0M839.8 519.1h0M845.5 339.4h0M847.7 624.5h0M848.1 546.6h0M854.7 566h0M862.9 533.4h0M865.8 339.3h0M865.8 606.8h0M876.2 571.1h0M876.5 545.6h0M877.6 626.3h0M892.1 339.2h0M912.5 339.4h0M939.3 339.4h0M964.5 339.2h0M982.6 339.6h0M1002.8 339.3h0M1026.1 339.2h0M1055.7 339.3h0M1090.1 339.2h0M1108.1 339.3h0M1132.9 339.3h0M1165.1 339.3h0M1200.6 339.4h0M1249 339.6h0"/>
<path d="M314.5 849.7h0M315 896.1h0M317.8 867.2h0M326 914.3h0M338.3 901.7h0M339 827.7h0M344.1 801.7h0M354.8 895.8h0M367.2 786.6h0M369.6 905.3h0M390.1 901.2h0M390.5 770.2h0M400.5 741.9h0M406.8 724.4h0M407 706.5h0M417.8 905.6h0M424.2 714.5h0M428.2 688.1h0M432.5 668.7h0M438.4 900h0M454.1 656.2h0M459 626.1h0M469.7 880.1h0M470 642.7h0M470.2 900h0M477 625.7h0M490.2 882.8h0M503.8 616.2h0M512.9 597.2h0M517 890.1h0M529.6 610.9h0M533.8 592.2h0M537.7 871.6h0M552.1 610.8h0M562 865.6h0M566.4 561h0M573.4 590.5h0M576.6 610.7h0M585.9 338.9h0M586.7 866.9h0M592.4 575h0M594.2 607.1h0M599.8 852h0M605.9 339.3h0M606 868.8h0M608.6 592h0M613.6 541.2h0M619.4 566.3h0M626.1 863.6h0M628.2 584.3h0M630.5 339.3h0M632.4 606.2h0M636.2 845.8h0M646.7 593.1h0M654.3 849.9h0M658.8 339.3h0M662.2 833.7h0M670.1 566.4h0M672.1 530.7h0M672.6 595h0M684.5 339.2h0M685.8 543.3h0M688.1 580.9h0M690.4 825.1h0M697.9 556.3h0M702.8 339.1h0M707.1 810.6h0M710.8 589.4h0M720.4 500.9h0M722.9 786h0M724.3 568.7h0M725.2 339.5h0M725.8 805.7h0M729.8 526.1h0M738.3 777h0M738.6 505h0M744.4 558.5h0M748.3 762.8h0M759.8 541.4h0M762.4 339.2h0M765.2 745.9h0M779.1 716h0M782.4 339h0M782.6 734h0M784.1 500.5h0M787.5 534h0M796.4 722.7h0M799.3 702.2h0M800.3 517.6h0M810.7 339.7h0M814 676.5h0M820 527h0M823.2 503.1h0M830.4 657.5h0M837.1 516.8h0M841.4 533.7h0M841.4 339.3h0M845.5 631.1h0M858.3 574.8h0M859.7 547.6h0M861.2 609.4h0M861.7 524.3h0M862.5 339.3h0M875.3 582.5h0M875.8 564h0M884.8 339.6h0M904 339.2h0M930.8 339.4h0M950.7 339.2h0M980.4 339.3h0M1002.7 339.1h0M1022.3 339.3h0M1045.5 339.3h0M1065.8 339.4h0M1103.9 339.2h0M1159.4 339.3h0M1181.9 339.3h0M1234.6 339.3h0"/>
<path d="M314.7 882.3h0M315.7 853h0M322 834.2h0M322.1 901.8h0M339.3 806.7h0M340.5 906.1h0M357 810.7h0M361.1 901.8h0M364.2 786h0M380.5 793.3h0M380.7 903.9h0M392.7 771.9h0M396.3 734.3h0M401.9 901h0M402.7 750.7h0M410.1 713.9h0M419.9 907h0M425.4 683.1h0M426.2 701.3h0M437.3 912.9h0M439.7 669.4h0M456 657.6h0M457 905.1h0M462.1 639.4h0M465.4 884.8h0M477.7 625.5h0M481.6 894.9h0M490.3 879.8h0M499.3 616.2h0M519.8 889.9h0M520.3 605.4h0M532.5 875.2h0M535.6 581.3h0M544.6 604.2h0M551.2 877.7h0M559.1 617.5h0M559.4 859.8h0M566.3 601.4h0M580.9 862.6h0M586.5 600.9h0M589.8 339.4h0M597.3 615.8h0M598.3 581h0M599.8 853.1h0M608.5 339.1h0M611.8 870.6h0M619.5 556.5h0M627 339.4h0M627.1 604.4h0M630.5 859.9h0M630.5 587.2h0M640.6 840.6h0M644.9 339.1h0M645.1 598.3h0M656.1 849.8h0M656.9 583.4h0M664.6 339.3h0M670.6 522.1h0M672 592.9h0M682.4 339.1h0M682.4 543.8h0M688.3 828.6h0M690 574.9h0M700.9 815.9h0M703.5 585.9h0M708.4 568.6h0M708.5 339.2h0M725.2 578.1h0M728.4 523.4h0M729.5 792.7h0M730.5 554.2h0M744.1 766h0M746.1 570.8h0M746.7 512.3h0M750.9 339.3h0M759.1 750.7h0M760.5 543.1h0M775 727h0M777.2 339.3h0M781.5 710.9h0M787.9 527.5h0M793.7 346.5h0M799.5 543.6h0M800.5 691.8h0M802.5 711.6h0M810.5 527.2h0M814 339.5h0M823.8 666.4h0M824 511.4h0M830.3 533.8h0M834.5 339.4h0M837.1 645h0M852.3 563.3h0M854.1 514.5h0M858.8 581.2h0M858.8 339.2h0M858.9 624.1h0M860.1 534.4h0M869.3 567h0M872.8 610.3h0M889.9 574.3h0M893.7 339.2h0M921.2 339.6h0M945.7 339.3h0M965.9 339.7h0M987.6 339.1h0M1008.1 339.3h0M1040.6 339.3h0M1061.9 339.5h0M1104.4 339.5h0M1152.5 339.1h0M1170.3 339.5h0M1235.9 339.4h0"/>
<path d="M310.3 843.3h0M315.9 870.4h0M320.8 896.3h0M323.9 825h0M324.5 914.4h0M327.9 843.5h0M338.6 903.1h0M348.8 816.2h0M360.5 902.2h0M362.1 802.2h0M377.1 895.6h0M386.4 785.4h0M389.7 909.8h0M393.5 758.5h0M397.9 725.4h0M407.1 894.7h0M410.3 745.1h0M415.5 916.9h0M417.8 689.8h0M421.2 716.5h0M432.1 908.8h0M438.2 681h0M449.6 663.8h0M452.3 643.4h0M457.7 899.4h0M467.7 630.2h0M472.7 885.7h0M481.4 613.7h0M491.2 884.3h0M511.3 616.1h0M514.5 890.4h0M525.7 874.4h0M533.9 600.7h0M544.5 618.6h0M545.1 880.9h0M559.6 867.8h0M562.7 617.2h0M575.5 859.1h0M582.2 586.8h0M586.3 604h0M592.3 866.8h0M592.7 339.2h0M608.2 602.8h0M610.2 854.3h0M614.1 544.4h0M616.4 339.3h0M625.1 845h0M630.4 587.9h0M634.6 607.6h0M636.4 339.4h0M648 849.2h0M652.9 599.1h0M661.2 582.6h0M664.7 529h0M665.3 339.2h0M668.3 846.5h0M674.2 827.7h0M681.8 592.7h0M698.5 339.3h0M702.8 816.7h0M703.7 583.2h0M703.9 553.9h0M720.2 801.1h0M720.6 560.2h0M724 580.7h0M724.7 339.4h0M731.9 542h0M734.5 789.2h0M742.6 569.6h0M748.2 776h0M748.7 758.4h0M752.8 533.1h0M765.1 549.5h0M772.7 728.6h0M779 339.1h0M788.8 701.1h0M792.1 546.5h0M792.4 524.3h0M798.7 685.2h0M803.8 717.5h0M808.3 339.3h0M811.8 518.5h0M812.6 662.8h0M818.5 681.2h0M830.7 514.4h0M831.2 644.2h0M835 339.2h0M844.6 631.3h0M849 536.9h0M855.1 339.3h0M855.6 559.9h0M861.3 610.5h0M861.5 577.9h0M861.9 628.4h0M866.6 542.8h0M879.9 339.4h0M889.4 569.4h0M899 339.2h0M949.2 339.1h0M978.1 339.3h0M999.6 339.3h0M1031.1 339.2h0M1051.2 339.2h0M1071.3 339.3h0M1107.1 339h0M1164.3 339.1h0"/>
<path d="M314.8 883.3h0M316.6 852.2h0M317.4 901.6h0M328.3 834.5h0M347.1 802.5h0M352 898.2h0M365 800.7h0M376.9 898h0M385.9 769.2h0M387.7 917.5h0M394.5 752.4h0M396.6 735h0M403 718.7h0M407.6 900.2h0M420.9 715.1h0M426.7 910.8h0M430.5 691.5h0M439.9 896.6h0M441.4 666h0M454.6 634.7h0M457.4 894.1h0M460.2 654.4h0M472.4 628.2h0M474.6 888h0M494.6 614.6h0M507.8 889.2h0M512.1 614.9h0M522.2 873.7h0M535.6 885.4h0M535.9 606.5h0M546.5 868.3h0M555 607.2h0M561.4 858.8h0M576 869.2h0M580.6 612.7h0M589.5 857.2h0M594.6 339.2h0M600.7 606.2h0M606.9 860.2h0M622.6 602.7h0M623.2 339.2h0M640.1 611h0M641.4 851.1h0M648.8 583.9h0M659.3 844.5h0M659.9 597.3h0M660 339.3h0M665.2 525.7h0M671.7 580.1h0M679.2 833.6h0M679.6 339.6h0M699.5 812.9h0M700.5 581.3h0M710.6 339.1h0M726.2 798.4h0M733.4 573.9h0M734.8 782.1h0M735.9 339.5h0M745.8 756.5h0M751 565.7h0M752.2 774.2h0M763.5 733h0M767 544.7h0M774.7 339.3h0M781.3 723.6h0M787.7 547.7h0M792.4 512.3h0M798.4 532.9h0M798.9 697.5h0M802.9 339.4h0M820 654.4h0M820 505.1h0M821.2 678.5h0M826.3 527.3h0M828.2 339.2h0M835.2 640.7h0M849.4 555.9h0M852.6 576.2h0M855.6 634h0M856.1 339.3h0M861.9 534.7h0M868.9 619h0M869.6 572.1h0M888 582.5h0M894.5 339h0M937.2 339.3h0M982.9 339.3h0M1004.9 339.5h0M1035.1 339.5h0M1099.9 339.1h0M1119.2 339h0M1153.9 339.4h0M1181.7 339.6h0"/>
<path d="M311 846.9h0M315 872.7h0M316.3 909.4h0M322 890.2h0M325.2 857.2h0M335.5 834.2h0M338.5 898.7h0M354.5 805.4h0M363.7 893.8h0M371.6 914.1h0M373.6 780.8h0M390 898.1h0M395.2 744.7h0M396.1 773.9h0M401.7 727.1h0M417.1 901.9h0M422.9 723.6h0M423.3 702.8h0M424.4 682.2h0M442.8 902.2h0M443.2 673.9h0M444.2 655.1h0M449.7 635.6h0M463.3 624.2h0M464.1 892.7h0M464.7 651.3h0M478.2 880.3h0M487.1 622.5h0M493.8 604.1h0M497.3 892.6h0M513.3 882h0M513.6 611.3h0M537.7 606.8h0M545.1 873.8h0M557.3 859.8h0M573.9 868.1h0M583.2 612.9h0M587 339.4h0M596.2 599.9h0M604 855.4h0M608.6 339.3h0M622.3 596.2h0M632.7 612.8h0M633.1 339.2h0M640.7 575.5h0M643.3 855.4h0M652.2 839.8h0M653.5 339.1h0M655.1 600.8h0M671.1 339.4h0M673.2 832.9h0M676.3 527.6h0M689.5 578.6h0M689.6 826.1h0M695.9 339h0M700.5 805.4h0M713.8 585h0M718.8 339.5h0M722 800h0M729.8 572h0M730.2 780h0M747.7 771.7h0M751.6 566.4h0M751.7 751.4h0M756.9 537.5h0M763.9 339.5h0M773.8 722.3h0M774.9 546.8h0M781.6 339.4h0M788.9 711.7h0M794.1 540.7h0M796 688.7h0M806.3 708h0M810 339.2h0M813.5 671.1h0M816.1 521.2h0M829.8 638.3h0M835.5 657.6h0M841.3 339.2h0M842.1 523.9h0M845.6 630.8h0M857.7 576.7h0M861.2 607.9h0M863.4 531.4h0M869.4 556.5h0M870.6 339.3h0M874.9 583.9h0M894.4 346.3h0M936.7 339.5h0M985.1 348.1h0M1002.3 339.3h0M1036.5 339.5h0M1091.1 339.3h0M1112.5 339.3h0M1153.5 339.3h0M1173.5 339.2h0"/>
<path d="M306 869.8h0M309.8 905.4h0M312.9 886.5h0M323.8 830.4h0M324.9 871.4h0M326 852.5h0M331.6 892.5h0M349.6 890.2h0M352.1 809.5h0M366.2 798.5h0M370.9 901.4h0M385 783.7h0M386.7 763.5h0M388.6 902.4h0M402.8 744.9h0M417.3 914.3h0M421.6 721.8h0M429.9 673.6h0M431.3 904h0M434.5 693.5h0M447.1 655.5h0M448.9 898.5h0M464.3 615.9h0M471.4 633.2h0M471.5 895.6h0M487 624.5h0M487.7 887.2h0M506.3 885.9h0M513.1 614.8h0M523.3 882.1h0M529.1 594.5h0M543.5 878.7h0M545.3 617.3h0M556.1 865.9h0M574.8 612.8h0M590.6 862.7h0M596.4 339.1h0M597.3 609.5h0M602.8 589.6h0M620.6 850.1h0M624 610.5h0M625.2 339.3h0M637.7 595.6h0M642.9 339.2h0M647.6 853.4h0M652.1 581.7h0M656.7 600.1h0M660.7 339.4h0M663.6 840.8h0M673 577.9h0M678.7 339.3h0M688.9 819.4h0M706.2 588.7h0M708.9 815h0M710 339.1h0M713.1 570.1h0M723.2 788h0M732.3 575.3h0M735 339.3h0M739.5 777.7h0M753.9 763.8h0M755 552.3h0M763.9 733h0M764 531.3h0M767.5 339.3h0M783.7 542.7h0M790.5 339.1h0M792.4 708h0M799.3 533.4h0M806 688.2h0M816.8 339.3h0M818.8 659.1h0M821.6 505.2h0M827 643.1h0M831.2 525.3h0M841.9 630.1h0M848.3 646.7h0M849.8 570.2h0M852.3 531.3h0M854.3 339.3h0M859.8 623.4h0M872.8 581.1h0M897.4 339.1h0M938.4 339.3h0M973 339.1h0M1004 339.3h0M1034.4 339.2h0M1095.6 339.3h0M1113.2 339.3h0M1147.7 339.3h0M1165.3 339.3h0"/>
<path d="M313.5 897.5h0M321.9 867.4h0M324.8 842.6h0M342.9 898.8h0M360.2 896.1h0M366.7 801h0M380.8 896.3h0M386.2 786.4h0M396.9 757.1h0M402.2 905h0M421.3 721.5h0M421.7 914h0M424.9 699.6h0M436.4 903h0M441.2 680.8h0M449.6 650h0M457.4 902h0M467.7 639.9h0M468.8 622.3h0M471 889.8h0M495.4 881.6h0M499.3 623.8h0M510.1 891.5h0M528.8 887.6h0M536.1 605.1h0M548.1 879.7h0M559.2 865.1h0M573.8 606.9h0M580.7 869.2h0M591 614.9h0M597.6 339.2h0M599.1 856.4h0M617.7 607h0M620.4 339.4h0M635 598h0M639.8 339.4h0M645.3 852.7h0M648.5 585h0M654.5 603.2h0M660.1 842h0M665.3 339.4h0M669.1 592.6h0M688 580.4h0M688.4 831.2h0M692.6 339.2h0M703.7 813.9h0M708.3 582.9h0M712.1 339.5h0M715.9 798.8h0M724.8 572h0M739 555.2h0M742.7 772.9h0M752.3 539.6h0M755.2 749h0M766.5 339.4h0M770.6 534.9h0M777.9 736h0M784.4 716.8h0M790 339.5h0M791.4 693.9h0M793.2 539.1h0M802.4 710.5h0M810.2 339.6h0M811.7 684.8h0M821.1 658h0M828.2 522h0M830.5 339.4h0M844.1 643.2h0M847.8 623.1h0M852.9 564.8h0M854.8 539.9h0M861 609.3h0M870.3 573.6h0M900.4 339.3h0M987.9 339.5h0M1011.5 344.5h0M1107.5 339.2h0M1148.2 339h0M1178.7 339.2h0"/>
<path d="M310.2 871.2h0M319.8 910.3h0M321.7 853.4h0M324.1 832.9h0M326.1 879.9h0M345 891.2h0M355.6 797.9h0M371.5 900.7h0M373.1 781h0M387.5 909h0M392.5 766.9h0M396.5 749.2h0M415.1 915.4h0M417.7 728.6h0M421.2 706.4h0M426.8 684.6h0M432.7 899.2h0M443.9 654.5h0M451.7 671.7h0M460.2 638.1h0M461.7 900h0M477.2 626.9h0M477.4 882.6h0M498.4 621.3h0M500 883.4h0M523.6 887h0M524.9 595.1h0M550.3 880.6h0M555.8 863h0M570.5 602.5h0M581.7 339.6h0M588 607.4h0M602.5 860.2h0M606.2 602.5h0M627.2 611.7h0M632.8 590.4h0M635.2 339.4h0M639.3 862h0M642.1 842.7h0M654.8 597.5h0M668 840.9h0M669.6 339.5h0M692.4 339.3h0M692.4 821.7h0M707.3 811.2h0M708.9 582.6h0M710.9 339.4h0M726.3 569.6h0M740.8 778.7h0M751.6 764.5h0M777.1 729.2h0M780.9 537.4h0M783.2 339.1h0M788.1 710.3h0M794.8 524.1h0M801 339.3h0M801.4 696.3h0M820.9 339.6h0M832.4 648.9h0M843.6 339.3h0M844 634.3h0M851.3 541.3h0M854.6 611.9h0M856.8 581.2h0M866.4 566.2h0M887.3 339.2h0M974.7 339.2h0M1003.3 339.4h0M1098.4 339.4h0"/>
<path d="M309.4 872.3h0M318.7 856.8h0M329.2 894.7h0M333.7 833.2h0M358.5 806h0M361.6 902.7h0M375.9 777.3h0M380.8 902.5h0M397.2 761.2h0M397.6 742.7h0M417 897.5h0M417.4 717.1h0M425.6 684.2h0M438.1 910.1h0M441.8 674h0M453.2 652.6h0M456.2 886.7h0M470.7 629h0M474.2 892h0M494 882.8h0M494.7 619.7h0M513.8 879.5h0M533.8 885.6h0M553.4 867.5h0M566.7 612.9h0M599.2 858.9h0M611.8 609h0M633.8 606.7h0M637.8 339.3h0M642.8 586.3h0M650.2 843.9h0M662.3 593.8h0M662.7 339h0M666.7 836.3h0M684.9 826.2h0M685.6 339.4h0M704.4 339.4h0M710.2 581.9h0M710.4 809.5h0M722.5 339.6h0M750.9 768.1h0M774.5 550.2h0M783 339.3h0M789.8 533h0M800.4 710.1h0M801 339.2h0M801.3 692.6h0M832.4 339.2h0M836 640.8h0M849.3 577.4h0M850.8 626.7h0M856.9 529.9h0M859.7 561.6h0M888.5 339.2h0M991.3 339.3h0M1014.2 339.3h0M1105.3 339.3h0"/>
<path d="M315.2 866.9h0M318.5 885.8h0M325.8 845.1h0M340.2 901.7h0M358.2 897.9h0M372.2 793.7h0M380.3 895.4h0M382.7 913.2h0M388.5 768.2h0M400.9 751.1h0M415.7 717.5h0M427.6 901.9h0M439.9 681.6h0M450.6 654.3h0M451.7 905.7h0M469.1 643.2h0M473.3 883.9h0M488.8 613.7h0M503.5 880.9h0M507.7 611.6h0M518.7 895h0M534.6 879.9h0M552.6 876.9h0M563.8 863.5h0M595.6 607.8h0M604.8 858.4h0M624.3 595.9h0M644.6 603.8h0M645.6 584.8h0M656.5 848h0M660.4 339.3h0M663.8 603.3h0M675.7 830.2h0M692.1 339.4h0M701.2 593.2h0M703 823.1h0M708.3 806.4h0M710.5 572.9h0M714.9 339.2h0M745 766.1h0M776.7 544.2h0M782.7 339h0M790.7 696.2h0M801.5 713.3h0M805.7 687.2h0M818.1 339.4h0M831.1 640.7h0M848.2 634.3h0M854.1 542.4h0M861 564.8h0M899 339.2h0M979.6 339.4h0M1002.6 339.3h0M1098 339.4h0"/>
<path d="M311.7 862h0M318.9 842.5h0M320 878.1h0M322.3 902.7h0M344.4 895.6h0M365.9 786.3h0M374.2 897h0M390.1 909.8h0M391.5 776.4h0M397.4 759.6h0M423.1 718.8h0M427.8 902h0M429.7 689.3h0M438.6 660.9h0M445 904.2h0M456.9 647.3h0M458.8 892h0M486.1 884.5h0M491.4 619.2h0M517.9 882.7h0M532.4 872.4h0M551.5 879.1h0M563.1 861.3h0M599.7 867.6h0M599.7 603.7h0M628.1 605.8h0M643.9 597.3h0M652.8 845.9h0M663.9 339.3h0M669.8 603.3h0M686.1 339.4h0M693.2 818.3h0M707.5 808.1h0M707.7 339h0M711.5 591.5h0M725.2 579h0M755.3 767.2h0M795.5 711.4h0M801.1 339.5h0M807.2 685.8h0M825.2 339.4h0M841.5 643.1h0M856 625h0M866.9 569h0M895.3 339.4h0M1011.5 339.4h0M1092 339.3h0M1114.5 339.4h0"/>
<path d="M316.9 855.3h0M317.6 877h0M326.4 893.6h0M352 896.4h0M369.3 894.9h0M384.6 909.6h0M391 769.6h0M402.2 754.7h0M424.9 715.3h0M425.5 908.8h0M442.4 900.2h0M449.9 644h0M452.9 666.3h0M461.1 893.5h0M478.6 888.7h0M497.4 885.4h0M524.9 876.4h0M548.2 868.5h0M565.7 865.1h0M588.5 863.9h0M596.1 607.2h0M613.2 865.2h0M630 599.5h0M643.6 855.5h0M657.7 842.6h0M659.7 338.9h0M679.6 339.4h0M682.1 822.5h0M697.7 590h0M699.1 815.2h0M699.4 339.3h0M710 576.1h0M746.3 769.2h0M786.2 716.6h0M805.7 702.5h0M809.2 682.8h0M812.2 339.5h0M831.5 339.2h0M837.2 642h0M856.5 630.4h0M893.7 339.1h0M1003.8 339.3h0M1092.7 339.4h0"/>
<path d="M308.3 882.2h0M311.1 864.3h0M327.6 890.4h0M346.7 902.7h0M364.2 908h0M383.2 905.4h0M389.9 749.2h0M391.5 768h0M411.7 725.9h0M422.9 702.4h0M427.2 913.6h0M453.3 906.5h0M453.4 649.4h0M473.3 888h0M491.9 892.1h0M524.4 884h0M537.1 871h0M564 869h0M592 854h0M621.9 605.5h0M637.9 596.3h0M656.2 846.8h0M675.6 339.2h0M690.5 815.4h0M707.8 339.3h0M710.8 578.3h0M755.6 755.6h0M784.9 714.7h0M811.4 339.5h0M834.1 339.2h0M846.8 640.8h0M858 624h0M885.3 339.2h0M903.4 339.5h0M1005.8 339.4h0M1104.3 339.2h0"/>
<path d="M312 866.3h0M316.2 885.3h0M351.6 898.8h0M376.7 902.1h0M387.7 763.4h0M391.6 780.6h0M398.7 747.8h0M422.2 907.4h0M425.4 716.4h0M440.6 902h0M458.2 899.9h0M460.6 658h0M472.5 888h0M488.4 880.1h0M504.9 892.1h0M522.8 884.1h0M539.2 874.2h0M560.1 873.6h0M625.5 600.6h0M638 587.6h0M642.8 848.5h0M664.9 845h0M674.5 338.9h0M687.3 827.6h0M713.7 585.6h0M790.3 709.8h0M804.4 339.4h0M823.3 339.3h0M844.8 637.1h0M890.1 339.4h0M1002.5 339.3h0"/>
<path d="M321.2 863.3h0M323.2 888.4h0M354.5 898.2h0M374 908.6h0M393.5 905.1h0M396.9 767h0M406.4 751.5h0M422.8 714.1h0M430.5 904.3h0M449.4 899.3h0M475.1 884.5h0M495.3 895.2h0M496.8 877.7h0M534.3 884.4h0M548 864.7h0M565.1 878.2h0M620.6 597.1h0M655.4 851h0M665.6 339.2h0M688.7 339.5h0M700 822.6h0M702 587.8h0M793.4 716.9h0M823.8 339.4h0M849.8 632.7h0M900.6 339.4h0M1003 339.2h0"/>
<path d="M317.7 881.1h0M348.8 905.6h0M380.9 905.7h0M387 774.4h0M406.1 751.7h0M419.4 715.7h0M433.7 899.8h0M461.6 892.6h0M476 882.4h0M499.1 879.8h0M550.6 868.5h0M569.1 873h0M625.7 596.8h0M645 846.8h0M662.8 842.4h0M684.6 820.3h0M814.3 339.5h0M845.2 634.4h0M890.5 339.3h0M1011.4 339.3h0"/>
<path d="M309.4 867.5h0M323.9 884h0M338.6 901.8h0M372 907.2h0M397.7 748.1h0M422.7 715.3h0M431.9 903.7h0M472.4 885h0M504.8 890.3h0M543.2 875.7h0M560.7 868.6h0M617.8 596.7h0M654.3 836.5h0M654.9 854.3h0M808.8 339.3h0M842.2 631.2h0M902.4 339.3h0"/>
<path d="M318.1 871.9h0M324.5 891.7h0M341.8 894.4h0M363.4 910h0M376.3 897.6h0M402.9 759.6h0M422.8 716.6h0M434 900.4h0M461.3 892h0M481.4 889.8h0M504.2 889.8h0M537.4 870.7h0M558.8 869.7h0M621.8 608.4h0M651.9 842.6h0M818.2 339.2h0"/>
<path d="M319.2 875.4h0M340.7 894.5h0M370.5 901.4h0M465.6 886.1h0M488.4 881.3h0M547.2 869.9h0M564 865h0M623.1 597.3h0M650.7 839.5h0"/>
<path d="M325.2 892.3h0M373.5 901.5h0M467.1 889.8h0M490.2 887.4h0M545.7 869.3h0M563.5 864.3h0M647.2 850.6h0"/>
<path d="M326.9 880.7h0M360.8 898.2h0M468 890.1h0M496.6 893.3h0M551.6 877.4h0M648.6 847.4h0"/>
<path d="M365.2 909.9h0M484.5 885h0M538 878.7h0M557.7 868.8h0M658.4 847.9h0"/>
<path d="M357.7 902.8h0M375.4 903h0M480.5 886.3h0M499.9 883.3h0M552.9 880h0M562.2 864.9h0M659.8 848.3h0"/>
<path d="M498.4 881.9h0M552.9 876.1h0M659.2 847.8h0"/>
<path d="M548 868.2h0M653.1 856.7h0"/>
<path d="M551.7 877.6h0M651.7 841.3h0"/>
<path d="M547.7 876.6h0M662.2 845.2h0"/>
<path d="M544 882h0M559.2 870.6h0"/>
<path d="M547 865.7h0"/>
<path d="M554.5 876.1h0"/>
<path d="M543.4 876.3h0"/>
<path d="M550 863.5h0"/>
<path d="M549.6 877h0"/>
<path d="M546.3 871.5h0"/>
<path d="M549.5 867.4h0"/>
</g></g>
<g stroke="#b0b0b0" stroke-opacity="0.7" stroke-width="1.67" stroke-dasharray="6.17 2.67" fill="none"><path d="M223.00 994.4V70.4"/><path d="M417.43 994.4V70.4"/><path d="M611.86 994.4V70.4"/><path d="M806.28 994.4V70.4"/><path d="M1000.71 994.4V70.4"/><path d="M1195.14 994.4V70.4"/><path d="M1389.57 994.4V70.4"/><path d="M1584.00 994.4V70.4"/><path d="M201.55 971.00H1751.4"/><path d="M201.55 844.69H1751.4"/><path d="M201.55 718.38H1751.4"/><path d="M201.55 592.07H1751.4"/><path d="M201.55 465.76H1751.4"/><path d="M201.55 339.45H1751.4"/><path d="M201.55 213.14H1751.4"/><path d="M201.55 86.83H1751.4"/></g>
<path d="M271.6 884.0L306.8 865.2L342.1 846.4L377.3 827.6L412.6 808.8L447.8 789.9L483.0 771.0L518.3 752.1L553.5 733.1L588.8 714.0L624.0 694.9L659.2 675.6L694.5 656.3L729.7 637.0L765.0 617.6L800.2 598.1L835.4 578.7L870.7 559.2L905.9 539.8L941.2 520.3L976.4 500.8L1011.6 481.4L1046.9 461.9L1082.1 442.4L1117.4 422.9L1152.6 403.4L1187.9 384.0L1223.1 364.5L1258.3 345.0L1293.6 325.5L1328.8 306.0L1364.1 286.5L1399.3 267.0L1434.5 247.5L1469.8 228.0L1505.0 208.6L1540.3 189.1L1575.5 169.6L1610.7 150.1L1646.0 130.6L1681.2 111.1L1681.2 133.3L1646.0 152.1L1610.7 170.9L1575.5 189.7L1540.3 208.4L1505.0 227.2L1469.8 246.0L1434.5 264.8L1399.3 283.6L1364.1 302.3L1328.8 321.1L1293.6 339.9L1258.3 358.7L1223.1 377.5L1187.9 396.3L1152.6 415.1L1117.4 433.8L1082.1 452.6L1046.9 471.4L1011.6 490.2L976.4 509.0L941.2 527.8L905.9 546.6L870.7 565.4L835.4 584.3L800.2 603.1L765.0 621.9L729.7 640.8L694.5 659.7L659.2 678.7L624.0 697.7L588.8 716.8L553.5 736.0L518.3 755.3L483.0 774.7L447.8 794.1L412.6 813.5L377.3 832.9L342.1 852.4L306.8 871.8L271.6 891.3Z" fill="#ff0000" fill-opacity="0.15"/>
<path d="M271.60 887.66L1681.22 122.20" stroke="#ff0000" stroke-width="6.25" stroke-linecap="square" fill="none"/>
<g stroke="#1a1a1a" fill="none"><path d="M201.55 69.0V995.79" stroke-width="2.78"/><path d="M200.16000000000003 994.4H1752.8000000000002" stroke-width="2.9"/><g stroke-width="2.1" stroke="#111"><path d="M223.00 994.4v-10.2"/><path d="M417.43 994.4v-10.2"/><path d="M611.86 994.4v-10.2"/><path d="M806.28 994.4v-10.2"/><path d="M1000.71 994.4v-10.2"/><path d="M1195.14 994.4v-10.2"/><path d="M1389.57 994.4v-10.2"/><path d="M1584.00 994.4v-10.2"/><path d="M201.55 971.00h9.7"/><path d="M201.55 844.69h9.7"/><path d="M201.55 718.38h9.7"/><path d="M201.55 592.07h9.7"/><path d="M201.55 465.76h9.7"/><path d="M201.55 339.45h9.7"/><path d="M201.55 213.14h9.7"/><path d="M201.55 86.83h9.7"/></g></g>
<g font-size="35" fill="#1a1a1a"><text x="212.4" y="1030.2" textLength="21.2" lengthAdjust="spacingAndGlyphs">0</text><text x="406.8" y="1030.2" textLength="21.2" lengthAdjust="spacingAndGlyphs">2</text><text x="601.2" y="1030.2" textLength="21.2" lengthAdjust="spacingAndGlyphs">4</text><text x="795.7" y="1030.2" textLength="21.2" lengthAdjust="spacingAndGlyphs">6</text><text x="990.1" y="1030.2" textLength="21.2" lengthAdjust="spacingAndGlyphs">8</text><text x="1173.9" y="1030.2" textLength="42.4" lengthAdjust="spacingAndGlyphs">10</text><text x="1368.4" y="1030.2" textLength="42.4" lengthAdjust="spacingAndGlyphs">12</text><text x="1562.8" y="1030.2" textLength="42.4" lengthAdjust="spacingAndGlyphs">14</text><text x="170.8" y="983.7" textLength="21.2" lengthAdjust="spacingAndGlyphs">0</text><text x="64.7" y="857.4" textLength="127.3" lengthAdjust="spacingAndGlyphs">100000</text><text x="64.7" y="731.1" textLength="127.3" lengthAdjust="spacingAndGlyphs">200000</text><text x="64.7" y="604.8" textLength="127.3" lengthAdjust="spacingAndGlyphs">300000</text><text x="64.7" y="478.5" textLength="127.3" lengthAdjust="spacingAndGlyphs">400000</text><text x="64.7" y="352.1" textLength="127.3" lengthAdjust="spacingAndGlyphs">500000</text><text x="64.7" y="225.8" textLength="127.3" lengthAdjust="spacingAndGlyphs">600000</text><text x="64.7" y="99.5" textLength="127.3" lengthAdjust="spacingAndGlyphs">700000</text></g>
<text x="848.6" y="1073.3" font-size="34" fill="#1a1a1a" textLength="121.3" lengthAdjust="spacingAndGlyphs">Median</text><text x="980.5" y="1073.3" font-size="34" fill="#1a1a1a" textLength="122.7" lengthAdjust="spacingAndGlyphs">Income</text>
<g transform="translate(45.9 702.5) rotate(-90)"><text x="0.0" y="0" font-size="34" fill="#1a1a1a" textLength="121.3" lengthAdjust="spacingAndGlyphs">Median</text><text x="131.9" y="0" font-size="34" fill="#1a1a1a" textLength="104.5" lengthAdjust="spacingAndGlyphs">House</text><text x="247.0" y="0" font-size="34" fill="#1a1a1a" textLength="91.6" lengthAdjust="spacingAndGlyphs">Value</text></g>
<text x="527.3" y="53.9" font-size="45.3" fill="#333333" textLength="243.8" lengthAdjust="spacingAndGlyphs">Regression</text><text x="785.3" y="53.9" font-size="45.3" fill="#333333" textLength="107.9" lengthAdjust="spacingAndGlyphs">Line:</text><text x="907.4" y="53.9" font-size="45.3" fill="#333333" textLength="164.0" lengthAdjust="spacingAndGlyphs">Income</text><text x="1085.6" y="53.9" font-size="45.3" fill="#333333" textLength="49.6" lengthAdjust="spacingAndGlyphs">vs</text><text x="1149.4" y="53.9" font-size="45.3" fill="#333333" textLength="139.7" lengthAdjust="spacingAndGlyphs">House</text><text x="1303.3" y="53.9" font-size="45.3" fill="#333333" textLength="122.4" lengthAdjust="spacingAndGlyphs">Value</text>
<g opacity="0.105" fill="none" stroke="#000" stroke-width="9.6" stroke-linecap="round" stroke-linejoin="round">
<path d="M814.8 986.5V1031H972"/>
<circle cx="796.6" cy="1024.3" r="13"/>
<circle cx="849.9" cy="1017.4" r="14.2"/>
<circle cx="972" cy="1023.2" r="14.7"/>
<path d="M887.5 1012V1031M905 1012V1031M922.6 1012V1031M938.8 1012V1031"/>
<g fill="#000" stroke="none"><circle cx="842.7" cy="987.5" r="6.3"/><circle cx="857.3" cy="987.5" r="6.3"/><circle cx="880.4" cy="1000.5" r="6.3"/><circle cx="895.3" cy="1000.5" r="6.3"/>
<text x="779" y="1070.7" font-size="35" font-weight="bold" textLength="213" lengthAdjust="spacingAndGlyphs">mostaql.com</text></g>
</g>

</svg>
</body></html>
